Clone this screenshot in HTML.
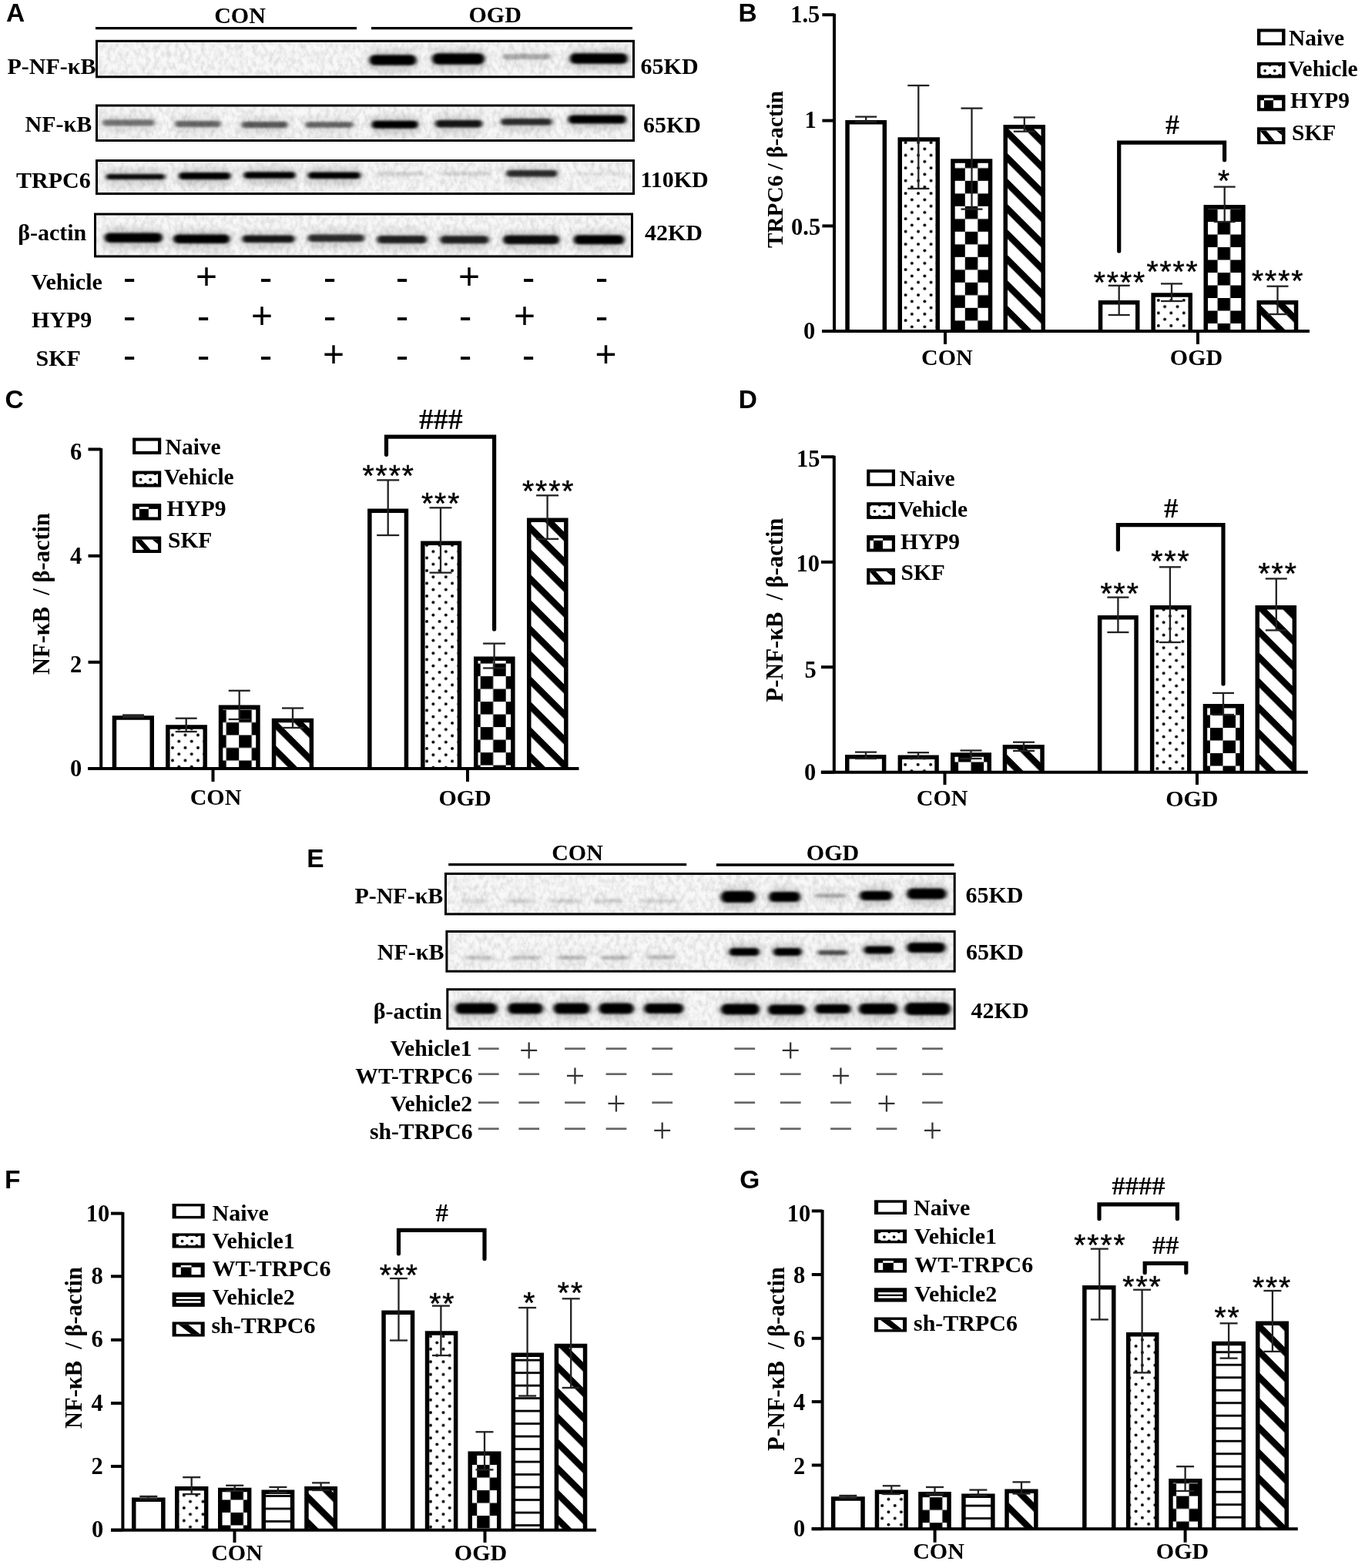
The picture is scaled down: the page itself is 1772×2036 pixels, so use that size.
<!DOCTYPE html><html><head><meta charset="utf-8"><title>Figure</title><style>html,body{margin:0;padding:0;background:#fff;}svg{display:block;}</style></head><body><svg width="1772" height="2036" viewBox="0 0 1772 2036"><defs><pattern id="d1" patternUnits="userSpaceOnUse" x="1175.6" y="300.6" width="16.5" height="16.5"><rect width="16.5" height="16.5" fill="#fff"/><circle cx="0" cy="0" r="2.0"/><circle cx="16.5" cy="0" r="2.0"/><circle cx="0" cy="16.5" r="2.0"/><circle cx="16.5" cy="16.5" r="2.0"/><circle cx="8.25" cy="8.25" r="2.0"/></pattern><pattern id="c2" patternUnits="userSpaceOnUse" x="1252.8" y="300.8" width="33" height="33"><rect width="33" height="33" fill="#fff"/><rect width="16.5" height="16.5"/><rect x="16.5" y="16.5" width="16.5" height="16.5"/></pattern><pattern id="g3" patternUnits="userSpaceOnUse" width="100" height="23.33" patternTransform="translate(1308.2,265.5) rotate(45)"><rect width="100" height="23.33" fill="#fff"/><rect width="100" height="8.49"/></pattern><pattern id="d4" patternUnits="userSpaceOnUse" x="1503.8" y="406.4" width="16.5" height="16.5"><rect width="16.5" height="16.5" fill="#fff"/><circle cx="0" cy="0" r="2.0"/><circle cx="16.5" cy="0" r="2.0"/><circle cx="0" cy="16.5" r="2.0"/><circle cx="16.5" cy="16.5" r="2.0"/><circle cx="8.25" cy="8.25" r="2.0"/></pattern><pattern id="c5" patternUnits="userSpaceOnUse" x="1580.6" y="288" width="33" height="33"><rect width="33" height="33" fill="#fff"/><rect width="16.5" height="16.5"/><rect x="16.5" y="16.5" width="16.5" height="16.5"/></pattern><pattern id="g6" patternUnits="userSpaceOnUse" width="100" height="23.33" patternTransform="translate(1636.6,396.4) rotate(45)"><rect width="100" height="23.33" fill="#fff"/><rect width="100" height="8.49"/></pattern><pattern id="d7" patternUnits="userSpaceOnUse" x="224" y="954.4" width="16.5" height="16.5"><rect width="16.5" height="16.5" fill="#fff"/><circle cx="0" cy="0" r="2.0"/><circle cx="16.5" cy="0" r="2.0"/><circle cx="0" cy="16.5" r="2.0"/><circle cx="16.5" cy="16.5" r="2.0"/><circle cx="8.25" cy="8.25" r="2.0"/></pattern><pattern id="c8" patternUnits="userSpaceOnUse" x="310.2" y="921.5" width="33" height="33"><rect width="33" height="33" fill="#fff"/><rect width="16.5" height="16.5"/><rect x="16.5" y="16.5" width="16.5" height="16.5"/></pattern><pattern id="g9" patternUnits="userSpaceOnUse" width="100" height="23.33" patternTransform="translate(357.8,968.1) rotate(45)"><rect width="100" height="23.33" fill="#fff"/><rect width="100" height="8.49"/></pattern><pattern id="d10" patternUnits="userSpaceOnUse" x="554.1" y="724.4" width="16.5" height="16.5"><rect width="16.5" height="16.5" fill="#fff"/><circle cx="0" cy="0" r="2.0"/><circle cx="16.5" cy="0" r="2.0"/><circle cx="0" cy="16.5" r="2.0"/><circle cx="16.5" cy="16.5" r="2.0"/><circle cx="8.25" cy="8.25" r="2.0"/></pattern><pattern id="c11" patternUnits="userSpaceOnUse" x="623.7" y="878.1" width="33" height="33"><rect width="33" height="33" fill="#fff"/><rect width="16.5" height="16.5"/><rect x="16.5" y="16.5" width="16.5" height="16.5"/></pattern><pattern id="g12" patternUnits="userSpaceOnUse" width="100" height="23.33" patternTransform="translate(688.8,713.1) rotate(45)"><rect width="100" height="23.33" fill="#fff"/><rect width="100" height="8.49"/></pattern><pattern id="d13" patternUnits="userSpaceOnUse" x="1175.2" y="992.8" width="16.5" height="16.5"><rect width="16.5" height="16.5" fill="#fff"/><circle cx="0" cy="0" r="2.0"/><circle cx="16.5" cy="0" r="2.0"/><circle cx="0" cy="16.5" r="2.0"/><circle cx="16.5" cy="16.5" r="2.0"/><circle cx="8.25" cy="8.25" r="2.0"/></pattern><pattern id="c14" patternUnits="userSpaceOnUse" x="1244.1" y="973" width="33" height="33"><rect width="33" height="33" fill="#fff"/><rect width="16.5" height="16.5"/><rect x="16.5" y="16.5" width="16.5" height="16.5"/></pattern><pattern id="g15" patternUnits="userSpaceOnUse" width="100" height="23.33" patternTransform="translate(1306.9,979.5) rotate(45)"><rect width="100" height="23.33" fill="#fff"/><rect width="100" height="8.49"/></pattern><pattern id="d16" patternUnits="userSpaceOnUse" x="1502.4" y="799.9" width="16.5" height="16.5"><rect width="16.5" height="16.5" fill="#fff"/><circle cx="0" cy="0" r="2.0"/><circle cx="16.5" cy="0" r="2.0"/><circle cx="0" cy="16.5" r="2.0"/><circle cx="16.5" cy="16.5" r="2.0"/><circle cx="8.25" cy="8.25" r="2.0"/></pattern><pattern id="c17" patternUnits="userSpaceOnUse" x="1571" y="945" width="33" height="33"><rect width="33" height="33" fill="#fff"/><rect width="16.5" height="16.5"/><rect x="16.5" y="16.5" width="16.5" height="16.5"/></pattern><pattern id="g18" patternUnits="userSpaceOnUse" width="100" height="23.33" patternTransform="translate(1634.8,814.7) rotate(45)"><rect width="100" height="23.33" fill="#fff"/><rect width="100" height="8.49"/></pattern><pattern id="d19" patternUnits="userSpaceOnUse" x="238.8" y="1958" width="16.5" height="16.5"><rect width="16.5" height="16.5" fill="#fff"/><circle cx="0" cy="0" r="2.0"/><circle cx="16.5" cy="0" r="2.0"/><circle cx="0" cy="16.5" r="2.0"/><circle cx="16.5" cy="16.5" r="2.0"/><circle cx="8.25" cy="8.25" r="2.0"/></pattern><pattern id="c20" patternUnits="userSpaceOnUse" x="299.4" y="1964" width="33" height="33"><rect width="33" height="33" fill="#fff"/><rect width="16.5" height="16.5"/><rect x="16.5" y="16.5" width="16.5" height="16.5"/></pattern><pattern id="h21" patternUnits="userSpaceOnUse" x="0" y="1957.6" width="50" height="16.5"><rect width="50" height="16.5" fill="#fff"/><rect width="50" height="2.8"/></pattern><pattern id="g22" patternUnits="userSpaceOnUse" width="100" height="23.33" patternTransform="translate(400.3,1938.8) rotate(45)"><rect width="100" height="23.33" fill="#fff"/><rect width="100" height="8.49"/></pattern><pattern id="d23" patternUnits="userSpaceOnUse" x="559" y="1751.7" width="16.5" height="16.5"><rect width="16.5" height="16.5" fill="#fff"/><circle cx="0" cy="0" r="2.0"/><circle cx="16.5" cy="0" r="2.0"/><circle cx="0" cy="16.5" r="2.0"/><circle cx="16.5" cy="16.5" r="2.0"/><circle cx="8.25" cy="8.25" r="2.0"/></pattern><pattern id="c24" patternUnits="userSpaceOnUse" x="619.2" y="1902.1" width="33" height="33"><rect width="33" height="33" fill="#fff"/><rect width="16.5" height="16.5"/><rect x="16.5" y="16.5" width="16.5" height="16.5"/></pattern><pattern id="h25" patternUnits="userSpaceOnUse" x="0" y="1781.2" width="50" height="16.5"><rect width="50" height="16.5" fill="#fff"/><rect width="50" height="2.8"/></pattern><pattern id="g26" patternUnits="userSpaceOnUse" width="100" height="23.33" patternTransform="translate(724.7,1769.5) rotate(45)"><rect width="100" height="23.33" fill="#fff"/><rect width="100" height="8.49"/></pattern><pattern id="d27" patternUnits="userSpaceOnUse" x="1145.2" y="1955" width="16.5" height="16.5"><rect width="16.5" height="16.5" fill="#fff"/><circle cx="0" cy="0" r="2.0"/><circle cx="16.5" cy="0" r="2.0"/><circle cx="0" cy="16.5" r="2.0"/><circle cx="16.5" cy="16.5" r="2.0"/><circle cx="8.25" cy="8.25" r="2.0"/></pattern><pattern id="c28" patternUnits="userSpaceOnUse" x="1206.8" y="1944.2" width="33" height="33"><rect width="33" height="33" fill="#fff"/><rect width="16.5" height="16.5"/><rect x="16.5" y="16.5" width="16.5" height="16.5"/></pattern><pattern id="h29" patternUnits="userSpaceOnUse" x="0" y="1953.7" width="50" height="16.5"><rect width="50" height="16.5" fill="#fff"/><rect width="50" height="2.8"/></pattern><pattern id="g30" patternUnits="userSpaceOnUse" width="100" height="23.33" patternTransform="translate(1310,1951.8) rotate(45)"><rect width="100" height="23.33" fill="#fff"/><rect width="100" height="8.49"/></pattern><pattern id="d31" patternUnits="userSpaceOnUse" x="1466.4" y="1739.7" width="16.5" height="16.5"><rect width="16.5" height="16.5" fill="#fff"/><circle cx="0" cy="0" r="2.0"/><circle cx="16.5" cy="0" r="2.0"/><circle cx="0" cy="16.5" r="2.0"/><circle cx="16.5" cy="16.5" r="2.0"/><circle cx="8.25" cy="8.25" r="2.0"/></pattern><pattern id="c32" patternUnits="userSpaceOnUse" x="1527.1" y="1942.6" width="33" height="33"><rect width="33" height="33" fill="#fff"/><rect width="16.5" height="16.5"/><rect x="16.5" y="16.5" width="16.5" height="16.5"/></pattern><pattern id="h33" patternUnits="userSpaceOnUse" x="0" y="1770.8" width="50" height="16.5"><rect width="50" height="16.5" fill="#fff"/><rect width="50" height="2.8"/></pattern><pattern id="g34" patternUnits="userSpaceOnUse" width="100" height="23.33" patternTransform="translate(1634.7,1782.2) rotate(45)"><rect width="100" height="23.33" fill="#fff"/><rect width="100" height="8.49"/></pattern><filter id="bl" x="-20%" y="-100%" width="140%" height="300%"><feGaussianBlur stdDeviation="2.6 1.8"/></filter><filter id="bl2" x="-30%" y="-100%" width="160%" height="300%"><feGaussianBlur stdDeviation="4 4"/></filter><filter id="nz" x="0" y="0" width="100%" height="100%"><feTurbulence type="fractalNoise" baseFrequency="0.18 0.12" numOctaves="3" seed="7" result="t"/><feColorMatrix in="t" type="matrix" values="0 0 0 0 0  0 0 0 0 0  0 0 0 0 0  0.24 0 0 0 -0.09" result="n"/><feComposite in="n" in2="SourceGraphic" operator="in"/></filter><clipPath id="clipA"><rect x="127" y="0" width="694" height="340"/></clipPath></defs><rect width="1772" height="2036" fill="#fff"/><text x="8" y="28" font-size="33.5" text-anchor="start" font-weight="bold" font-family="'Liberation Sans', Arial, sans-serif" >A</text>
<text x="311.5" y="30" font-size="30" text-anchor="middle" font-weight="bold" font-family="'Liberation Serif', 'Times New Roman', serif" >CON</text>
<text x="642.7" y="28.5" font-size="30" text-anchor="middle" font-weight="bold" font-family="'Liberation Serif', 'Times New Roman', serif" >OGD</text>
<line x1="124" y1="36.7" x2="463" y2="36.7" stroke="#000" stroke-width="3.2" stroke-linecap="butt"/>
<line x1="482" y1="36.7" x2="821" y2="36.7" stroke="#000" stroke-width="3.2" stroke-linecap="butt"/>
<rect x="125.5" y="53.3" width="697" height="46.5" fill="#f8f8f8"/>
<rect x="127" y="54.8" width="694" height="43.5" fill="#000" filter="url(#nz)"/>
<rect x="125.5" y="137" width="697" height="45.5" fill="#f8f8f8"/>
<rect x="127" y="138.5" width="694" height="42.5" fill="#000" filter="url(#nz)"/>
<rect x="125.5" y="208.5" width="697" height="43" fill="#f8f8f8"/>
<rect x="127" y="210" width="694" height="40" fill="#000" filter="url(#nz)"/>
<rect x="123.5" y="278" width="697" height="54.9" fill="#f8f8f8"/>
<rect x="125" y="279.5" width="694" height="51.9" fill="#000" filter="url(#nz)"/>
<g clip-path="url(#clipA)">
<rect x="477" y="65.15" width="66" height="27.5" rx="13.75" fill="#000" fill-opacity="0.16" filter="url(#bl2)"/>
<rect x="479.5" y="71.15" width="61" height="13.5" rx="6.75" fill="#000" fill-opacity="1.0" filter="url(#bl)"/>
<rect x="558.4" y="63.15" width="73.1" height="28.5" rx="14.25" fill="#000" fill-opacity="0.16" filter="url(#bl2)"/>
<rect x="560.9" y="69.15" width="68.1" height="14.5" rx="7.25" fill="#000" fill-opacity="1.0" filter="url(#bl)"/>
<rect x="649.8" y="64" width="68.1" height="21" rx="10.5" fill="#000" fill-opacity="0.04" filter="url(#bl2)"/>
<rect x="652.3" y="70" width="63.1" height="7" rx="3.5" fill="#000" fill-opacity="0.28" filter="url(#bl)"/>
<rect x="737.2" y="63.15" width="80.2" height="27.5" rx="13.75" fill="#000" fill-opacity="0.16" filter="url(#bl2)"/>
<rect x="739.7" y="69.15" width="75.2" height="13.5" rx="6.75" fill="#000" fill-opacity="1.0" filter="url(#bl)"/>
<rect x="130.5" y="149.5" width="72.5" height="22" rx="11" fill="#000" fill-opacity="0.08" filter="url(#bl2)"/>
<rect x="133" y="155.5" width="67.5" height="8" rx="4" fill="#000" fill-opacity="0.5" filter="url(#bl)"/>
<rect x="224.6" y="151" width="64.4" height="22" rx="11" fill="#000" fill-opacity="0.09" filter="url(#bl2)"/>
<rect x="227.1" y="157" width="59.4" height="8" rx="4" fill="#000" fill-opacity="0.55" filter="url(#bl)"/>
<rect x="311" y="152" width="65" height="22" rx="11" fill="#000" fill-opacity="0.1" filter="url(#bl2)"/>
<rect x="313.5" y="158" width="60" height="8" rx="4" fill="#000" fill-opacity="0.6" filter="url(#bl)"/>
<rect x="394" y="152.25" width="67" height="21.5" rx="10.75" fill="#000" fill-opacity="0.09" filter="url(#bl2)"/>
<rect x="396.5" y="158.25" width="62" height="7.5" rx="3.75" fill="#000" fill-opacity="0.55" filter="url(#bl)"/>
<rect x="480" y="150.7" width="65.2" height="24" rx="12" fill="#000" fill-opacity="0.16" filter="url(#bl2)"/>
<rect x="482.5" y="156.7" width="60.2" height="10" rx="5" fill="#000" fill-opacity="1.0" filter="url(#bl)"/>
<rect x="562.5" y="149.95" width="66" height="23.5" rx="11.75" fill="#000" fill-opacity="0.14" filter="url(#bl2)"/>
<rect x="565" y="155.95" width="61" height="9.5" rx="4.75" fill="#000" fill-opacity="0.9" filter="url(#bl)"/>
<rect x="647.8" y="147.95" width="71.2" height="22.5" rx="11.25" fill="#000" fill-opacity="0.13" filter="url(#bl2)"/>
<rect x="650.3" y="153.95" width="66.2" height="8.5" rx="4.25" fill="#000" fill-opacity="0.8" filter="url(#bl)"/>
<rect x="735.2" y="143.6" width="80.2" height="25" rx="12.5" fill="#000" fill-opacity="0.16" filter="url(#bl2)"/>
<rect x="737.7" y="149.6" width="75.2" height="11" rx="5.5" fill="#000" fill-opacity="1.0" filter="url(#bl)"/>
<rect x="135.3" y="220" width="81.2" height="21" rx="10.5" fill="#000" fill-opacity="0.15" filter="url(#bl2)"/>
<rect x="137.8" y="226" width="76.2" height="7" rx="3.5" fill="#000" fill-opacity="0.95" filter="url(#bl)"/>
<rect x="229.7" y="218" width="72.1" height="23" rx="11.5" fill="#000" fill-opacity="0.16" filter="url(#bl2)"/>
<rect x="232.2" y="224" width="67.1" height="9" rx="4.5" fill="#000" fill-opacity="1.0" filter="url(#bl)"/>
<rect x="314" y="217.25" width="72" height="22.5" rx="11.25" fill="#000" fill-opacity="0.16" filter="url(#bl2)"/>
<rect x="316.5" y="223.25" width="67" height="8.5" rx="4.25" fill="#000" fill-opacity="1.0" filter="url(#bl)"/>
<rect x="397.3" y="217.55" width="73.2" height="22.5" rx="11.25" fill="#000" fill-opacity="0.16" filter="url(#bl2)"/>
<rect x="399.8" y="223.55" width="68.2" height="8.5" rx="4.25" fill="#000" fill-opacity="1.0" filter="url(#bl)"/>
<rect x="488.4" y="217" width="64.1" height="19" rx="9.5" fill="#000" fill-opacity="0.02" filter="url(#bl2)"/>
<rect x="490.9" y="223" width="59.1" height="5" rx="2.5" fill="#000" fill-opacity="0.12" filter="url(#bl)"/>
<rect x="568.8" y="217" width="69.7" height="19" rx="9.5" fill="#000" fill-opacity="0.02" filter="url(#bl2)"/>
<rect x="571.3" y="223" width="64.7" height="5" rx="2.5" fill="#000" fill-opacity="0.12" filter="url(#bl)"/>
<rect x="654.9" y="215.05" width="71.1" height="22.5" rx="11.25" fill="#000" fill-opacity="0.13" filter="url(#bl2)"/>
<rect x="657.4" y="221.05" width="66.1" height="8.5" rx="4.25" fill="#000" fill-opacity="0.8" filter="url(#bl)"/>
<rect x="743.7" y="217" width="72.3" height="19" rx="9.5" fill="#000" fill-opacity="0.01" filter="url(#bl2)"/>
<rect x="746.2" y="223" width="67.3" height="5" rx="2.5" fill="#000" fill-opacity="0.06" filter="url(#bl)"/>
<rect x="133.2" y="296.45" width="80.2" height="26.5" rx="13.25" fill="#000" fill-opacity="0.16" filter="url(#bl2)"/>
<rect x="135.7" y="302.45" width="75.2" height="12.5" rx="6.25" fill="#000" fill-opacity="1.0" filter="url(#bl)"/>
<rect x="222.6" y="298.45" width="78.2" height="25.5" rx="12.75" fill="#000" fill-opacity="0.16" filter="url(#bl2)"/>
<rect x="225.1" y="304.45" width="73.2" height="11.5" rx="5.75" fill="#000" fill-opacity="1.0" filter="url(#bl)"/>
<rect x="312" y="299.45" width="73" height="23.5" rx="11.75" fill="#000" fill-opacity="0.14" filter="url(#bl2)"/>
<rect x="314.5" y="305.45" width="68" height="9.5" rx="4.75" fill="#000" fill-opacity="0.9" filter="url(#bl)"/>
<rect x="397.3" y="298.45" width="78.2" height="23.5" rx="11.75" fill="#000" fill-opacity="0.13" filter="url(#bl2)"/>
<rect x="399.8" y="304.45" width="73.2" height="9.5" rx="4.75" fill="#000" fill-opacity="0.8" filter="url(#bl)"/>
<rect x="487" y="300" width="69.7" height="24" rx="12" fill="#000" fill-opacity="0.14" filter="url(#bl2)"/>
<rect x="489.5" y="306" width="64.7" height="10" rx="5" fill="#000" fill-opacity="0.85" filter="url(#bl)"/>
<rect x="568.8" y="300.3" width="68.2" height="24" rx="12" fill="#000" fill-opacity="0.14" filter="url(#bl2)"/>
<rect x="571.3" y="306.3" width="63.2" height="10" rx="5" fill="#000" fill-opacity="0.85" filter="url(#bl)"/>
<rect x="650.6" y="299.55" width="78.2" height="25.5" rx="12.75" fill="#000" fill-opacity="0.15" filter="url(#bl2)"/>
<rect x="653.1" y="305.55" width="73.2" height="11.5" rx="5.75" fill="#000" fill-opacity="0.95" filter="url(#bl)"/>
<rect x="742.3" y="299.3" width="70.6" height="26" rx="13" fill="#000" fill-opacity="0.16" filter="url(#bl2)"/>
<rect x="744.8" y="305.3" width="65.6" height="12" rx="6" fill="#000" fill-opacity="1.0" filter="url(#bl)"/>
</g>
<rect x="125.5" y="53.3" width="697" height="46.5" fill="none" stroke="#000" stroke-width="3"/>
<rect x="125.5" y="137" width="697" height="45.5" fill="none" stroke="#000" stroke-width="3"/>
<rect x="125.5" y="208.5" width="697" height="43" fill="none" stroke="#000" stroke-width="3"/>
<rect x="123.5" y="278" width="697" height="54.9" fill="none" stroke="#000" stroke-width="3"/>
<text x="9.5" y="96.2" font-size="30" text-anchor="start" font-weight="bold" font-family="'Liberation Serif', 'Times New Roman', serif" >P-NF-κB</text>
<text x="32.6" y="171.3" font-size="30" text-anchor="start" font-weight="bold" font-family="'Liberation Serif', 'Times New Roman', serif" >NF-κB</text>
<text x="21" y="244" font-size="30" text-anchor="start" font-weight="bold" font-family="'Liberation Serif', 'Times New Roman', serif" >TRPC6</text>
<text x="23.2" y="312" font-size="30" text-anchor="start" font-weight="bold" font-family="'Liberation Serif', 'Times New Roman', serif" >β-actin</text>
<text x="831.6" y="96" font-size="30" text-anchor="start" font-weight="bold" font-family="'Liberation Serif', 'Times New Roman', serif" >65KD</text>
<text x="835" y="171.6" font-size="30" text-anchor="start" font-weight="bold" font-family="'Liberation Serif', 'Times New Roman', serif" >65KD</text>
<text x="831.4" y="243" font-size="30" text-anchor="start" font-weight="bold" font-family="'Liberation Serif', 'Times New Roman', serif" >110KD</text>
<text x="837" y="312" font-size="30" text-anchor="start" font-weight="bold" font-family="'Liberation Serif', 'Times New Roman', serif" >42KD</text>
<text x="40.6" y="376.4" font-size="30" text-anchor="start" font-weight="bold" font-family="'Liberation Serif', 'Times New Roman', serif" >Vehicle</text>
<text x="41" y="425" font-size="30" text-anchor="start" font-weight="bold" font-family="'Liberation Serif', 'Times New Roman', serif" >HYP9</text>
<text x="46.5" y="475" font-size="30" text-anchor="start" font-weight="bold" font-family="'Liberation Serif', 'Times New Roman', serif" >SKF</text>
<text x="168" y="376.7" font-size="50" text-anchor="middle" font-weight="normal" font-family="'Liberation Sans', Arial, sans-serif" >-</text>
<text x="268" y="375.3" font-size="48" text-anchor="middle" font-weight="normal" font-family="'Liberation Sans', Arial, sans-serif" >+</text>
<text x="345" y="376.7" font-size="50" text-anchor="middle" font-weight="normal" font-family="'Liberation Sans', Arial, sans-serif" >-</text>
<text x="428" y="376.7" font-size="50" text-anchor="middle" font-weight="normal" font-family="'Liberation Sans', Arial, sans-serif" >-</text>
<text x="522" y="376.7" font-size="50" text-anchor="middle" font-weight="normal" font-family="'Liberation Sans', Arial, sans-serif" >-</text>
<text x="609" y="375.3" font-size="48" text-anchor="middle" font-weight="normal" font-family="'Liberation Sans', Arial, sans-serif" >+</text>
<text x="686" y="376.7" font-size="50" text-anchor="middle" font-weight="normal" font-family="'Liberation Sans', Arial, sans-serif" >-</text>
<text x="781" y="376.7" font-size="50" text-anchor="middle" font-weight="normal" font-family="'Liberation Sans', Arial, sans-serif" >-</text>
<text x="168" y="427" font-size="50" text-anchor="middle" font-weight="normal" font-family="'Liberation Sans', Arial, sans-serif" >-</text>
<text x="264" y="427" font-size="50" text-anchor="middle" font-weight="normal" font-family="'Liberation Sans', Arial, sans-serif" >-</text>
<text x="340" y="426.2" font-size="48" text-anchor="middle" font-weight="normal" font-family="'Liberation Sans', Arial, sans-serif" >+</text>
<text x="428" y="427" font-size="50" text-anchor="middle" font-weight="normal" font-family="'Liberation Sans', Arial, sans-serif" >-</text>
<text x="522" y="427" font-size="50" text-anchor="middle" font-weight="normal" font-family="'Liberation Sans', Arial, sans-serif" >-</text>
<text x="604" y="427" font-size="50" text-anchor="middle" font-weight="normal" font-family="'Liberation Sans', Arial, sans-serif" >-</text>
<text x="681" y="426.2" font-size="48" text-anchor="middle" font-weight="normal" font-family="'Liberation Sans', Arial, sans-serif" >+</text>
<text x="781" y="427" font-size="50" text-anchor="middle" font-weight="normal" font-family="'Liberation Sans', Arial, sans-serif" >-</text>
<text x="168" y="477.9" font-size="50" text-anchor="middle" font-weight="normal" font-family="'Liberation Sans', Arial, sans-serif" >-</text>
<text x="264" y="477.9" font-size="50" text-anchor="middle" font-weight="normal" font-family="'Liberation Sans', Arial, sans-serif" >-</text>
<text x="345" y="477.9" font-size="50" text-anchor="middle" font-weight="normal" font-family="'Liberation Sans', Arial, sans-serif" >-</text>
<text x="433" y="476.3" font-size="48" text-anchor="middle" font-weight="normal" font-family="'Liberation Sans', Arial, sans-serif" >+</text>
<text x="522" y="477.9" font-size="50" text-anchor="middle" font-weight="normal" font-family="'Liberation Sans', Arial, sans-serif" >-</text>
<text x="604" y="477.9" font-size="50" text-anchor="middle" font-weight="normal" font-family="'Liberation Sans', Arial, sans-serif" >-</text>
<text x="686" y="477.9" font-size="50" text-anchor="middle" font-weight="normal" font-family="'Liberation Sans', Arial, sans-serif" >-</text>
<text x="786.5" y="476.3" font-size="48" text-anchor="middle" font-weight="normal" font-family="'Liberation Sans', Arial, sans-serif" >+</text>
<text x="958.6" y="28" font-size="33.5" text-anchor="start" font-weight="bold" font-family="'Liberation Sans', Arial, sans-serif" >B</text>
<line x1="1083" y1="17.7" x2="1083" y2="430" stroke="#000" stroke-width="4" stroke-linecap="butt"/>
<line x1="1067.4" y1="19.2" x2="1083" y2="19.2" stroke="#000" stroke-width="4" stroke-linecap="butt"/>
<text x="1026.2" y="28.6" font-size="30.5" text-anchor="start" font-weight="bold" font-family="'Liberation Serif', 'Times New Roman', serif" >1.5</text>
<line x1="1067.4" y1="156.6" x2="1083" y2="156.6" stroke="#000" stroke-width="4" stroke-linecap="butt"/>
<text x="1044.5" y="166.4" font-size="30.5" text-anchor="start" font-weight="bold" font-family="'Liberation Serif', 'Times New Roman', serif" >1</text>
<line x1="1067.4" y1="293.4" x2="1083" y2="293.4" stroke="#000" stroke-width="4" stroke-linecap="butt"/>
<text x="1027" y="304.8" font-size="30.5" text-anchor="start" font-weight="bold" font-family="'Liberation Serif', 'Times New Roman', serif" >0.5</text>
<line x1="1067.4" y1="430" x2="1083" y2="430" stroke="#000" stroke-width="4" stroke-linecap="butt"/>
<text x="1043" y="440.3" font-size="30.5" text-anchor="start" font-weight="bold" font-family="'Liberation Serif', 'Times New Roman', serif" >0</text>
<line x1="1227" y1="430" x2="1227" y2="447" stroke="#000" stroke-width="4" stroke-linecap="butt"/>
<text x="1229.4" y="474" font-size="30" text-anchor="middle" font-weight="bold" font-family="'Liberation Serif', 'Times New Roman', serif" >CON</text>
<line x1="1555" y1="430" x2="1555" y2="447" stroke="#000" stroke-width="4" stroke-linecap="butt"/>
<text x="1553" y="474" font-size="30" text-anchor="middle" font-weight="bold" font-family="'Liberation Serif', 'Times New Roman', serif" >OGD</text>
<text transform="translate(1016,220) rotate(-90)" font-size="29.3" text-anchor="middle" font-weight="bold" font-family="'Liberation Serif', 'Times New Roman', serif" xml:space="preserve">TRPC6 / β-actin</text>
<rect x="1100.05" y="158.75" width="48.3" height="271.25" fill="#fff"/>
<path d="M1100.05,430 L1100.05,158.75 L1148.35,158.75 L1148.35,430" fill="none" stroke="#000" stroke-width="5.5" stroke-linejoin="miter"/>
<rect x="1168.25" y="180.95" width="49" height="249.05" fill="url(#d1)"/>
<path d="M1168.25,430 L1168.25,180.95 L1217.25,180.95 L1217.25,430" fill="none" stroke="#000" stroke-width="5.5" stroke-linejoin="miter"/>
<rect x="1236.95" y="209.05" width="48.6" height="220.95" fill="url(#c2)"/>
<path d="M1236.95,430 L1236.95,209.05 L1285.55,209.05 L1285.55,430" fill="none" stroke="#000" stroke-width="5.5" stroke-linejoin="miter"/>
<rect x="1305.25" y="164.75" width="49" height="265.25" fill="url(#g3)"/>
<path d="M1305.25,430 L1305.25,164.75 L1354.25,164.75 L1354.25,430" fill="none" stroke="#000" stroke-width="5.5" stroke-linejoin="miter"/>
<rect x="1428.55" y="392.75" width="48.2" height="37.25" fill="#fff"/>
<path d="M1428.55,430 L1428.55,392.75 L1476.75,392.75 L1476.75,430" fill="none" stroke="#000" stroke-width="5.5" stroke-linejoin="miter"/>
<rect x="1497.15" y="382.95" width="48.1" height="47.05" fill="url(#d4)"/>
<path d="M1497.15,430 L1497.15,382.95 L1545.25,382.95 L1545.25,430" fill="none" stroke="#000" stroke-width="5.5" stroke-linejoin="miter"/>
<rect x="1565.25" y="268.75" width="48.7" height="161.25" fill="url(#c5)"/>
<path d="M1565.25,430 L1565.25,268.75 L1613.95,268.75 L1613.95,430" fill="none" stroke="#000" stroke-width="5.5" stroke-linejoin="miter"/>
<rect x="1634.25" y="392.75" width="48.3" height="37.25" fill="url(#g6)"/>
<path d="M1634.25,430 L1634.25,392.75 L1682.55,392.75 L1682.55,430" fill="none" stroke="#000" stroke-width="5.5" stroke-linejoin="miter"/>
<line x1="1067" y1="430" x2="1700" y2="430" stroke="#000" stroke-width="4" stroke-linecap="butt"/>
<line x1="1124.2" y1="151.6" x2="1124.2" y2="158" stroke="#222" stroke-width="2.3" stroke-linecap="butt"/>
<line x1="1110.2" y1="151.6" x2="1138.2" y2="151.6" stroke="#222" stroke-width="2.3" stroke-linecap="butt"/>
<line x1="1110.2" y1="158" x2="1138.2" y2="158" stroke="#222" stroke-width="2.3" stroke-linecap="butt"/>
<line x1="1192.3" y1="111" x2="1192.3" y2="244.9" stroke="#222" stroke-width="2.3" stroke-linecap="butt"/>
<line x1="1178.3" y1="111" x2="1206.3" y2="111" stroke="#222" stroke-width="2.3" stroke-linecap="butt"/>
<line x1="1178.3" y1="244.9" x2="1206.3" y2="244.9" stroke="#222" stroke-width="2.3" stroke-linecap="butt"/>
<line x1="1261.5" y1="140.6" x2="1261.5" y2="271.6" stroke="#222" stroke-width="2.3" stroke-linecap="butt"/>
<line x1="1247.5" y1="140.6" x2="1275.5" y2="140.6" stroke="#222" stroke-width="2.3" stroke-linecap="butt"/>
<line x1="1247.5" y1="271.6" x2="1275.5" y2="271.6" stroke="#222" stroke-width="2.3" stroke-linecap="butt"/>
<line x1="1329.8" y1="152.4" x2="1329.8" y2="170.7" stroke="#222" stroke-width="2.3" stroke-linecap="butt"/>
<line x1="1315.8" y1="152.4" x2="1343.8" y2="152.4" stroke="#222" stroke-width="2.3" stroke-linecap="butt"/>
<line x1="1315.8" y1="170.7" x2="1343.8" y2="170.7" stroke="#222" stroke-width="2.3" stroke-linecap="butt"/>
<line x1="1452.7" y1="370.8" x2="1452.7" y2="409" stroke="#222" stroke-width="2.3" stroke-linecap="butt"/>
<line x1="1438.7" y1="370.8" x2="1466.7" y2="370.8" stroke="#222" stroke-width="2.3" stroke-linecap="butt"/>
<line x1="1438.7" y1="409" x2="1466.7" y2="409" stroke="#222" stroke-width="2.3" stroke-linecap="butt"/>
<line x1="1521" y1="368.4" x2="1521" y2="391" stroke="#222" stroke-width="2.3" stroke-linecap="butt"/>
<line x1="1507" y1="368.4" x2="1535" y2="368.4" stroke="#222" stroke-width="2.3" stroke-linecap="butt"/>
<line x1="1507" y1="391" x2="1535" y2="391" stroke="#222" stroke-width="2.3" stroke-linecap="butt"/>
<line x1="1589.7" y1="242.6" x2="1589.7" y2="288" stroke="#222" stroke-width="2.3" stroke-linecap="butt"/>
<line x1="1575.7" y1="242.6" x2="1603.7" y2="242.6" stroke="#222" stroke-width="2.3" stroke-linecap="butt"/>
<line x1="1575.7" y1="288" x2="1603.7" y2="288" stroke="#222" stroke-width="2.3" stroke-linecap="butt"/>
<line x1="1658.5" y1="371.7" x2="1658.5" y2="408" stroke="#222" stroke-width="2.3" stroke-linecap="butt"/>
<line x1="1644.5" y1="371.7" x2="1672.5" y2="371.7" stroke="#222" stroke-width="2.3" stroke-linecap="butt"/>
<line x1="1644.5" y1="408" x2="1672.5" y2="408" stroke="#222" stroke-width="2.3" stroke-linecap="butt"/>
<text x="1453.95" y="380.03" font-size="39" letter-spacing="1.9" text-anchor="middle" font-family="'Liberation Sans', Arial, sans-serif" stroke="#000" stroke-width="0.5">****</text>
<text x="1522.55" y="365.53" font-size="39" letter-spacing="1.9" text-anchor="middle" font-family="'Liberation Sans', Arial, sans-serif" stroke="#000" stroke-width="0.5">****</text>
<text x="1589.45" y="248.03" font-size="39" letter-spacing="1.9" text-anchor="middle" font-family="'Liberation Sans', Arial, sans-serif" stroke="#000" stroke-width="0.5">*</text>
<text x="1659.15" y="378.03" font-size="39" letter-spacing="1.9" text-anchor="middle" font-family="'Liberation Sans', Arial, sans-serif" stroke="#000" stroke-width="0.5">****</text>
<path d="M1452.7,326 L1452.7,185.1 L1589.6,185.1 L1589.6,207.7" fill="none" stroke="#000" stroke-width="5.2" stroke-linecap="round" stroke-linejoin="miter"/>
<text x="1522" y="174.3" font-size="35.95" text-anchor="middle" font-weight="bold" font-family="'Liberation Serif', 'Times New Roman', serif" >#</text>
<rect x="1632" y="37.4" width="36.5" height="21.5" fill="#000"/>
<rect x="1636.4" y="41.5" width="27.7" height="13.3" fill="#fff"/>
<text x="1673" y="59.3" font-size="29.5" text-anchor="start" font-weight="bold" font-family="'Liberation Serif', 'Times New Roman', serif" >Naive</text>
<rect x="1632" y="80.8" width="36.5" height="20.6" fill="#000"/>
<rect x="1636.4" y="84.9" width="27.7" height="12.4" fill="#fff"/>
<circle cx="1642.15" cy="91.84" r="1.9"/>
<circle cx="1654.75" cy="91.84" r="1.9"/>
<circle cx="1635.85" cy="84.3" r="2.1"/>
<circle cx="1635.85" cy="97.9" r="2.1"/>
<circle cx="1648.45" cy="84.3" r="2.1"/>
<circle cx="1648.45" cy="97.9" r="2.1"/>
<circle cx="1661.05" cy="84.3" r="2.1"/>
<circle cx="1661.05" cy="97.9" r="2.1"/>
<text x="1672" y="98.6" font-size="29.5" text-anchor="start" font-weight="bold" font-family="'Liberation Serif', 'Times New Roman', serif" >Vehicle</text>
<rect x="1632" y="123.3" width="36.5" height="21" fill="#000"/>
<rect x="1636.4" y="130.2" width="4.6" height="10" fill="#fff"/>
<rect x="1653" y="130.2" width="11.1" height="10" fill="#fff"/>
<rect x="1641" y="127.4" width="12" height="2.8" fill="#fff"/>
<text x="1675" y="140.2" font-size="29.5" text-anchor="start" font-weight="bold" font-family="'Liberation Serif', 'Times New Roman', serif" >HYP9</text>
<rect x="1632" y="165.3" width="36.5" height="22" fill="#000"/>
<rect x="1636.4" y="169.4" width="27.7" height="13.8" fill="#fff"/>
<polygon points="1636.4,170.5 1636.4,169.4 1643.6,169.4 1654.96,183.2 1646.93,183.2"/>
<polygon points="1656.9,169.4 1664.1,169.4 1664.1,175.47"/>
<text x="1677" y="182.3" font-size="29.5" text-anchor="start" font-weight="bold" font-family="'Liberation Serif', 'Times New Roman', serif" >SKF</text>
<text x="6.4" y="530.3" font-size="33.5" text-anchor="start" font-weight="bold" font-family="'Liberation Sans', Arial, sans-serif" >C</text>
<line x1="131.2" y1="581.9" x2="131.2" y2="998" stroke="#000" stroke-width="4" stroke-linecap="butt"/>
<line x1="114.5" y1="583.4" x2="131.2" y2="583.4" stroke="#000" stroke-width="4" stroke-linecap="butt"/>
<text x="90.9" y="596.8" font-size="30.5" text-anchor="start" font-weight="bold" font-family="'Liberation Serif', 'Times New Roman', serif" >6</text>
<line x1="114.5" y1="721.8" x2="131.2" y2="721.8" stroke="#000" stroke-width="4" stroke-linecap="butt"/>
<text x="90.9" y="732.1" font-size="30.5" text-anchor="start" font-weight="bold" font-family="'Liberation Serif', 'Times New Roman', serif" >4</text>
<line x1="114.5" y1="859.8" x2="131.2" y2="859.8" stroke="#000" stroke-width="4" stroke-linecap="butt"/>
<text x="91" y="872.5" font-size="30.5" text-anchor="start" font-weight="bold" font-family="'Liberation Serif', 'Times New Roman', serif" >2</text>
<line x1="114.5" y1="998" x2="131.2" y2="998" stroke="#000" stroke-width="4" stroke-linecap="butt"/>
<text x="91" y="1007.8" font-size="30.5" text-anchor="start" font-weight="bold" font-family="'Liberation Serif', 'Times New Roman', serif" >0</text>
<line x1="276.5" y1="998" x2="276.5" y2="1015" stroke="#000" stroke-width="4" stroke-linecap="butt"/>
<text x="280" y="1045" font-size="30" text-anchor="middle" font-weight="bold" font-family="'Liberation Serif', 'Times New Roman', serif" >CON</text>
<line x1="607" y1="998" x2="607" y2="1015" stroke="#000" stroke-width="4" stroke-linecap="butt"/>
<text x="603.6" y="1046" font-size="30" text-anchor="middle" font-weight="bold" font-family="'Liberation Serif', 'Times New Roman', serif" >OGD</text>
<text transform="translate(63.5,771) rotate(-90)" font-size="30.5" text-anchor="middle" font-weight="bold" font-family="'Liberation Serif', 'Times New Roman', serif" xml:space="preserve">NF-κB  / β-actin</text>
<rect x="148.45" y="931.95" width="48.8" height="66.05" fill="#fff"/>
<path d="M148.45,998 L148.45,931.95 L197.25,931.95 L197.25,998" fill="none" stroke="#000" stroke-width="5.5" stroke-linejoin="miter"/>
<rect x="217.85" y="944.05" width="48.4" height="53.95" fill="url(#d7)"/>
<path d="M217.85,998 L217.85,944.05 L266.25,944.05 L266.25,998" fill="none" stroke="#000" stroke-width="5.5" stroke-linejoin="miter"/>
<rect x="286.55" y="918.15" width="48.4" height="79.85" fill="url(#c8)"/>
<path d="M286.55,998 L286.55,918.15 L334.95,918.15 L334.95,998" fill="none" stroke="#000" stroke-width="5.5" stroke-linejoin="miter"/>
<rect x="355.55" y="935.45" width="48.8" height="62.55" fill="url(#g9)"/>
<path d="M355.55,998 L355.55,935.45 L404.35,935.45 L404.35,998" fill="none" stroke="#000" stroke-width="5.5" stroke-linejoin="miter"/>
<rect x="479.85" y="663.35" width="47.6" height="334.65" fill="#fff"/>
<path d="M479.85,998 L479.85,663.35 L527.45,663.35 L527.45,998" fill="none" stroke="#000" stroke-width="5.5" stroke-linejoin="miter"/>
<rect x="548.85" y="705.25" width="47.6" height="292.75" fill="url(#d10)"/>
<path d="M548.85,998 L548.85,705.25 L596.45,705.25 L596.45,998" fill="none" stroke="#000" stroke-width="5.5" stroke-linejoin="miter"/>
<rect x="617.75" y="855.15" width="48.1" height="142.85" fill="url(#c11)"/>
<path d="M617.75,998 L617.75,855.15 L665.85,855.15 L665.85,998" fill="none" stroke="#000" stroke-width="5.5" stroke-linejoin="miter"/>
<rect x="686.75" y="675.25" width="48.1" height="322.75" fill="url(#g12)"/>
<path d="M686.75,998 L686.75,675.25 L734.85,675.25 L734.85,998" fill="none" stroke="#000" stroke-width="5.5" stroke-linejoin="miter"/>
<line x1="114" y1="998" x2="751.5" y2="998" stroke="#000" stroke-width="4" stroke-linecap="butt"/>
<line x1="173" y1="928.5" x2="173" y2="931" stroke="#222" stroke-width="2.3" stroke-linecap="butt"/>
<line x1="159" y1="928.5" x2="187" y2="928.5" stroke="#222" stroke-width="2.3" stroke-linecap="butt"/>
<line x1="159" y1="931" x2="187" y2="931" stroke="#222" stroke-width="2.3" stroke-linecap="butt"/>
<line x1="241.7" y1="932.7" x2="241.7" y2="950" stroke="#222" stroke-width="2.3" stroke-linecap="butt"/>
<line x1="227.7" y1="932.7" x2="255.7" y2="932.7" stroke="#222" stroke-width="2.3" stroke-linecap="butt"/>
<line x1="227.7" y1="950" x2="255.7" y2="950" stroke="#222" stroke-width="2.3" stroke-linecap="butt"/>
<line x1="310.7" y1="896.8" x2="310.7" y2="934" stroke="#222" stroke-width="2.3" stroke-linecap="butt"/>
<line x1="296.7" y1="896.8" x2="324.7" y2="896.8" stroke="#222" stroke-width="2.3" stroke-linecap="butt"/>
<line x1="296.7" y1="934" x2="324.7" y2="934" stroke="#222" stroke-width="2.3" stroke-linecap="butt"/>
<line x1="380" y1="919.5" x2="380" y2="945" stroke="#222" stroke-width="2.3" stroke-linecap="butt"/>
<line x1="366" y1="919.5" x2="394" y2="919.5" stroke="#222" stroke-width="2.3" stroke-linecap="butt"/>
<line x1="366" y1="945" x2="394" y2="945" stroke="#222" stroke-width="2.3" stroke-linecap="butt"/>
<line x1="503.7" y1="623.4" x2="503.7" y2="695" stroke="#222" stroke-width="2.3" stroke-linecap="butt"/>
<line x1="489.2" y1="623.4" x2="518.2" y2="623.4" stroke="#222" stroke-width="2.3" stroke-linecap="butt"/>
<line x1="489.2" y1="695" x2="518.2" y2="695" stroke="#222" stroke-width="2.3" stroke-linecap="butt"/>
<line x1="572" y1="659.3" x2="572" y2="743.6" stroke="#222" stroke-width="2.3" stroke-linecap="butt"/>
<line x1="557.5" y1="659.3" x2="586.5" y2="659.3" stroke="#222" stroke-width="2.3" stroke-linecap="butt"/>
<line x1="557.5" y1="743.6" x2="586.5" y2="743.6" stroke="#222" stroke-width="2.3" stroke-linecap="butt"/>
<line x1="641.6" y1="835.6" x2="641.6" y2="867.5" stroke="#222" stroke-width="2.3" stroke-linecap="butt"/>
<line x1="627.1" y1="835.6" x2="656.1" y2="835.6" stroke="#222" stroke-width="2.3" stroke-linecap="butt"/>
<line x1="627.1" y1="867.5" x2="656.1" y2="867.5" stroke="#222" stroke-width="2.3" stroke-linecap="butt"/>
<line x1="710.6" y1="643.3" x2="710.6" y2="699.8" stroke="#222" stroke-width="2.3" stroke-linecap="butt"/>
<line x1="696.1" y1="643.3" x2="725.1" y2="643.3" stroke="#222" stroke-width="2.3" stroke-linecap="butt"/>
<line x1="696.1" y1="699.8" x2="725.1" y2="699.8" stroke="#222" stroke-width="2.3" stroke-linecap="butt"/>
<text x="504.65" y="631.43" font-size="39" letter-spacing="1.9" text-anchor="middle" font-family="'Liberation Sans', Arial, sans-serif" stroke="#000" stroke-width="0.5">****</text>
<text x="572.65" y="666.73" font-size="39" letter-spacing="1.9" text-anchor="middle" font-family="'Liberation Sans', Arial, sans-serif" stroke="#000" stroke-width="0.5">***</text>
<text x="712.15" y="650.83" font-size="39" letter-spacing="1.9" text-anchor="middle" font-family="'Liberation Sans', Arial, sans-serif" stroke="#000" stroke-width="0.5">****</text>
<path d="M501.5,590.3 L501.5,567.2 L641.6,567.2 L641.6,817" fill="none" stroke="#000" stroke-width="5.2" stroke-linecap="round" stroke-linejoin="miter"/>
<text x="572.3" y="556.6" font-size="37.87" text-anchor="middle" font-weight="bold" font-family="'Liberation Serif', 'Times New Roman', serif" >###</text>
<rect x="172.1" y="568.5" width="37.1" height="21.5" fill="#000"/>
<rect x="176.3" y="572.6" width="28.7" height="13.3" fill="#fff"/>
<text x="214.6" y="589.7" font-size="29.5" text-anchor="start" font-weight="bold" font-family="'Liberation Serif', 'Times New Roman', serif" >Naive</text>
<rect x="172.1" y="611.5" width="37.1" height="21" fill="#000"/>
<rect x="176.3" y="615.6" width="28.7" height="12.8" fill="#fff"/>
<circle cx="182.55" cy="622.77" r="1.9"/>
<circle cx="195.15" cy="622.77" r="1.9"/>
<circle cx="176.25" cy="615" r="2.1"/>
<circle cx="176.25" cy="629" r="2.1"/>
<circle cx="188.85" cy="615" r="2.1"/>
<circle cx="188.85" cy="629" r="2.1"/>
<circle cx="201.45" cy="615" r="2.1"/>
<circle cx="201.45" cy="629" r="2.1"/>
<text x="213" y="629.4" font-size="29.5" text-anchor="start" font-weight="bold" font-family="'Liberation Serif', 'Times New Roman', serif" >Vehicle</text>
<rect x="172.1" y="654" width="37.1" height="21.5" fill="#000"/>
<rect x="176.3" y="660.9" width="4.6" height="10.5" fill="#fff"/>
<rect x="192.9" y="660.9" width="12.1" height="10.5" fill="#fff"/>
<rect x="180.9" y="658.1" width="12" height="2.8" fill="#fff"/>
<text x="216.5" y="670.4" font-size="29.5" text-anchor="start" font-weight="bold" font-family="'Liberation Serif', 'Times New Roman', serif" >HYP9</text>
<rect x="172.1" y="696.5" width="37.1" height="21.5" fill="#000"/>
<rect x="176.3" y="700.6" width="28.7" height="13.3" fill="#fff"/>
<polygon points="176.3,701.66 176.3,700.6 183.76,700.6 195.53,713.9 187.21,713.9"/>
<polygon points="197.54,700.6 205,700.6 205,706.45"/>
<text x="218" y="711.3" font-size="29.5" text-anchor="start" font-weight="bold" font-family="'Liberation Serif', 'Times New Roman', serif" >SKF</text>
<text x="958.8" y="529.8" font-size="33.5" text-anchor="start" font-weight="bold" font-family="'Liberation Sans', Arial, sans-serif" >D</text>
<line x1="1082.8" y1="591.7" x2="1082.8" y2="1002.7" stroke="#000" stroke-width="4" stroke-linecap="butt"/>
<line x1="1066" y1="593.2" x2="1082.8" y2="593.2" stroke="#000" stroke-width="4" stroke-linecap="butt"/>
<text x="1033.9" y="606" font-size="30.5" text-anchor="start" font-weight="bold" font-family="'Liberation Serif', 'Times New Roman', serif" >15</text>
<line x1="1066" y1="729.8" x2="1082.8" y2="729.8" stroke="#000" stroke-width="4" stroke-linecap="butt"/>
<text x="1033.6" y="742.3" font-size="30.5" text-anchor="start" font-weight="bold" font-family="'Liberation Serif', 'Times New Roman', serif" >10</text>
<line x1="1066" y1="866.2" x2="1082.8" y2="866.2" stroke="#000" stroke-width="4" stroke-linecap="butt"/>
<text x="1044.6" y="879.5" font-size="30.5" text-anchor="start" font-weight="bold" font-family="'Liberation Serif', 'Times New Roman', serif" >5</text>
<line x1="1066" y1="1002.7" x2="1082.8" y2="1002.7" stroke="#000" stroke-width="4" stroke-linecap="butt"/>
<text x="1044" y="1012.5" font-size="30.5" text-anchor="start" font-weight="bold" font-family="'Liberation Serif', 'Times New Roman', serif" >0</text>
<line x1="1226.5" y1="1002.7" x2="1226.5" y2="1019" stroke="#000" stroke-width="4" stroke-linecap="butt"/>
<text x="1223.2" y="1046" font-size="30" text-anchor="middle" font-weight="bold" font-family="'Liberation Serif', 'Times New Roman', serif" >CON</text>
<line x1="1554" y1="1002.7" x2="1554" y2="1019" stroke="#000" stroke-width="4" stroke-linecap="butt"/>
<text x="1547.3" y="1047" font-size="30" text-anchor="middle" font-weight="bold" font-family="'Liberation Serif', 'Times New Roman', serif" >OGD</text>
<text transform="translate(1015.8,792) rotate(-90)" font-size="30.5" text-anchor="middle" font-weight="bold" font-family="'Liberation Serif', 'Times New Roman', serif" xml:space="preserve">P-NF-κB  / β-actin</text>
<rect x="1099.75" y="982.75" width="47.9" height="19.95" fill="#fff"/>
<path d="M1099.75,1002.7 L1099.75,982.75 L1147.65,982.75 L1147.65,1002.7" fill="none" stroke="#000" stroke-width="5.5" stroke-linejoin="miter"/>
<rect x="1168.35" y="983.15" width="47.7" height="19.55" fill="url(#d13)"/>
<path d="M1168.35,1002.7 L1168.35,983.15 L1216.05,983.15 L1216.05,1002.7" fill="none" stroke="#000" stroke-width="5.5" stroke-linejoin="miter"/>
<rect x="1236.75" y="979.95" width="47.5" height="22.75" fill="url(#c14)"/>
<path d="M1236.75,1002.7 L1236.75,979.95 L1284.25,979.95 L1284.25,1002.7" fill="none" stroke="#000" stroke-width="5.5" stroke-linejoin="miter"/>
<rect x="1304.45" y="969.75" width="48.6" height="32.95" fill="url(#g15)"/>
<path d="M1304.45,1002.7 L1304.45,969.75 L1353.05,969.75 L1353.05,1002.7" fill="none" stroke="#000" stroke-width="5.5" stroke-linejoin="miter"/>
<rect x="1427.65" y="801.75" width="47.4" height="200.95" fill="#fff"/>
<path d="M1427.65,1002.7 L1427.65,801.75 L1475.05,801.75 L1475.05,1002.7" fill="none" stroke="#000" stroke-width="5.5" stroke-linejoin="miter"/>
<rect x="1495.65" y="788.75" width="48.1" height="213.95" fill="url(#d16)"/>
<path d="M1495.65,1002.7 L1495.65,788.75 L1543.75,788.75 L1543.75,1002.7" fill="none" stroke="#000" stroke-width="5.5" stroke-linejoin="miter"/>
<rect x="1564.45" y="916.75" width="47.8" height="85.95" fill="url(#c17)"/>
<path d="M1564.45,1002.7 L1564.45,916.75 L1612.25,916.75 L1612.25,1002.7" fill="none" stroke="#000" stroke-width="5.5" stroke-linejoin="miter"/>
<rect x="1632.25" y="788.75" width="48.1" height="213.95" fill="url(#g18)"/>
<path d="M1632.25,1002.7 L1632.25,788.75 L1680.35,788.75 L1680.35,1002.7" fill="none" stroke="#000" stroke-width="5.5" stroke-linejoin="miter"/>
<line x1="1065.8" y1="1002.7" x2="1697.8" y2="1002.7" stroke="#000" stroke-width="4" stroke-linecap="butt"/>
<line x1="1124" y1="976.6" x2="1124" y2="985" stroke="#222" stroke-width="2.3" stroke-linecap="butt"/>
<line x1="1110" y1="976.6" x2="1138" y2="976.6" stroke="#222" stroke-width="2.3" stroke-linecap="butt"/>
<line x1="1110" y1="985" x2="1138" y2="985" stroke="#222" stroke-width="2.3" stroke-linecap="butt"/>
<line x1="1192" y1="977.2" x2="1192" y2="985" stroke="#222" stroke-width="2.3" stroke-linecap="butt"/>
<line x1="1178" y1="977.2" x2="1206" y2="977.2" stroke="#222" stroke-width="2.3" stroke-linecap="butt"/>
<line x1="1178" y1="985" x2="1206" y2="985" stroke="#222" stroke-width="2.3" stroke-linecap="butt"/>
<line x1="1260.5" y1="974.5" x2="1260.5" y2="985" stroke="#222" stroke-width="2.3" stroke-linecap="butt"/>
<line x1="1246.5" y1="974.5" x2="1274.5" y2="974.5" stroke="#222" stroke-width="2.3" stroke-linecap="butt"/>
<line x1="1246.5" y1="985" x2="1274.5" y2="985" stroke="#222" stroke-width="2.3" stroke-linecap="butt"/>
<line x1="1329" y1="963.7" x2="1329" y2="975" stroke="#222" stroke-width="2.3" stroke-linecap="butt"/>
<line x1="1315" y1="963.7" x2="1343" y2="963.7" stroke="#222" stroke-width="2.3" stroke-linecap="butt"/>
<line x1="1315" y1="975" x2="1343" y2="975" stroke="#222" stroke-width="2.3" stroke-linecap="butt"/>
<line x1="1451.4" y1="775.6" x2="1451.4" y2="821" stroke="#222" stroke-width="2.3" stroke-linecap="butt"/>
<line x1="1437.4" y1="775.6" x2="1465.4" y2="775.6" stroke="#222" stroke-width="2.3" stroke-linecap="butt"/>
<line x1="1437.4" y1="821" x2="1465.4" y2="821" stroke="#222" stroke-width="2.3" stroke-linecap="butt"/>
<line x1="1518.9" y1="736.3" x2="1518.9" y2="834" stroke="#222" stroke-width="2.3" stroke-linecap="butt"/>
<line x1="1504.9" y1="736.3" x2="1532.9" y2="736.3" stroke="#222" stroke-width="2.3" stroke-linecap="butt"/>
<line x1="1504.9" y1="834" x2="1532.9" y2="834" stroke="#222" stroke-width="2.3" stroke-linecap="butt"/>
<line x1="1588" y1="899.9" x2="1588" y2="928" stroke="#222" stroke-width="2.3" stroke-linecap="butt"/>
<line x1="1574" y1="899.9" x2="1602" y2="899.9" stroke="#222" stroke-width="2.3" stroke-linecap="butt"/>
<line x1="1574" y1="928" x2="1602" y2="928" stroke="#222" stroke-width="2.3" stroke-linecap="butt"/>
<line x1="1656.8" y1="751.4" x2="1656.8" y2="818.4" stroke="#222" stroke-width="2.3" stroke-linecap="butt"/>
<line x1="1642.8" y1="751.4" x2="1670.8" y2="751.4" stroke="#222" stroke-width="2.3" stroke-linecap="butt"/>
<line x1="1642.8" y1="818.4" x2="1670.8" y2="818.4" stroke="#222" stroke-width="2.3" stroke-linecap="butt"/>
<text x="1454.15" y="784.33" font-size="39" letter-spacing="1.9" text-anchor="middle" font-family="'Liberation Sans', Arial, sans-serif" stroke="#000" stroke-width="0.5">***</text>
<text x="1519.95" y="742.23" font-size="39" letter-spacing="1.9" text-anchor="middle" font-family="'Liberation Sans', Arial, sans-serif" stroke="#000" stroke-width="0.5">***</text>
<text x="1659.15" y="758.43" font-size="39" letter-spacing="1.9" text-anchor="middle" font-family="'Liberation Sans', Arial, sans-serif" stroke="#000" stroke-width="0.5">***</text>
<path d="M1451.4,713.4 L1451.4,681.6 L1588,681.6 L1588,888" fill="none" stroke="#000" stroke-width="5.2" stroke-linecap="round" stroke-linejoin="miter"/>
<text x="1520.2" y="671.9" font-size="36.83" text-anchor="middle" font-weight="bold" font-family="'Liberation Serif', 'Times New Roman', serif" >#</text>
<rect x="1125.2" y="609.6" width="36.8" height="21.7" fill="#000"/>
<rect x="1129.4" y="613.6" width="28.4" height="13.7" fill="#fff"/>
<text x="1167.6" y="630.7" font-size="29.5" text-anchor="start" font-weight="bold" font-family="'Liberation Serif', 'Times New Roman', serif" >Naive</text>
<rect x="1125.2" y="652.2" width="36.8" height="21.7" fill="#000"/>
<rect x="1129.4" y="656.2" width="28.4" height="13.7" fill="#fff"/>
<circle cx="1135.5" cy="663.87" r="1.9"/>
<circle cx="1148.1" cy="663.87" r="1.9"/>
<circle cx="1129.2" cy="655.6" r="2.1"/>
<circle cx="1129.2" cy="670.5" r="2.1"/>
<circle cx="1141.8" cy="655.6" r="2.1"/>
<circle cx="1141.8" cy="670.5" r="2.1"/>
<circle cx="1154.4" cy="655.6" r="2.1"/>
<circle cx="1154.4" cy="670.5" r="2.1"/>
<text x="1165.4" y="671" font-size="29.5" text-anchor="start" font-weight="bold" font-family="'Liberation Serif', 'Times New Roman', serif" >Vehicle</text>
<rect x="1125.2" y="695" width="36.8" height="21.5" fill="#000"/>
<rect x="1129.4" y="701.8" width="4.6" height="10.7" fill="#fff"/>
<rect x="1146" y="701.8" width="11.8" height="10.7" fill="#fff"/>
<rect x="1134" y="699" width="12" height="2.8" fill="#fff"/>
<text x="1169" y="712.5" font-size="29.5" text-anchor="start" font-weight="bold" font-family="'Liberation Serif', 'Times New Roman', serif" >HYP9</text>
<rect x="1125.2" y="737.8" width="36.8" height="21.3" fill="#000"/>
<rect x="1129.4" y="741.8" width="28.4" height="13.3" fill="#fff"/>
<polygon points="1129.4,742.86 1129.4,741.8 1136.78,741.8 1148.43,755.1 1140.19,755.1"/>
<polygon points="1150.42,741.8 1157.8,741.8 1157.8,747.65"/>
<text x="1169.5" y="752.8" font-size="29.5" text-anchor="start" font-weight="bold" font-family="'Liberation Serif', 'Times New Roman', serif" >SKF</text>
<text x="6.1" y="1542.6" font-size="33.5" text-anchor="start" font-weight="bold" font-family="'Liberation Sans', Arial, sans-serif" >F</text>
<line x1="159.4" y1="1574.1" x2="159.4" y2="1986.7" stroke="#000" stroke-width="4" stroke-linecap="butt"/>
<line x1="144" y1="1575.6" x2="159.4" y2="1575.6" stroke="#000" stroke-width="4" stroke-linecap="butt"/>
<text x="126.9" y="1585.8" font-size="30.5" text-anchor="middle" font-weight="bold" font-family="'Liberation Serif', 'Times New Roman', serif" >10</text>
<line x1="144" y1="1657.3" x2="159.4" y2="1657.3" stroke="#000" stroke-width="4" stroke-linecap="butt"/>
<text x="126.1" y="1666.5" font-size="30.5" text-anchor="middle" font-weight="bold" font-family="'Liberation Serif', 'Times New Roman', serif" >8</text>
<line x1="144" y1="1739.8" x2="159.4" y2="1739.8" stroke="#000" stroke-width="4" stroke-linecap="butt"/>
<text x="126.1" y="1749.3" font-size="30.5" text-anchor="middle" font-weight="bold" font-family="'Liberation Serif', 'Times New Roman', serif" >6</text>
<line x1="144" y1="1822" x2="159.4" y2="1822" stroke="#000" stroke-width="4" stroke-linecap="butt"/>
<text x="126.1" y="1831.8" font-size="30.5" text-anchor="middle" font-weight="bold" font-family="'Liberation Serif', 'Times New Roman', serif" >4</text>
<line x1="144" y1="1904" x2="159.4" y2="1904" stroke="#000" stroke-width="4" stroke-linecap="butt"/>
<text x="126.1" y="1913.8" font-size="30.5" text-anchor="middle" font-weight="bold" font-family="'Liberation Serif', 'Times New Roman', serif" >2</text>
<line x1="144" y1="1986.7" x2="159.4" y2="1986.7" stroke="#000" stroke-width="4" stroke-linecap="butt"/>
<text x="126.6" y="1996.3" font-size="30.5" text-anchor="middle" font-weight="bold" font-family="'Liberation Serif', 'Times New Roman', serif" >0</text>
<line x1="304.5" y1="1986.7" x2="304.5" y2="2003" stroke="#000" stroke-width="4" stroke-linecap="butt"/>
<text x="307.5" y="2026" font-size="30" text-anchor="middle" font-weight="bold" font-family="'Liberation Serif', 'Times New Roman', serif" >CON</text>
<line x1="629.5" y1="1986.7" x2="629.5" y2="2003" stroke="#000" stroke-width="4" stroke-linecap="butt"/>
<text x="624" y="2025.5" font-size="30" text-anchor="middle" font-weight="bold" font-family="'Liberation Serif', 'Times New Roman', serif" >OGD</text>
<text transform="translate(105.5,1750) rotate(-90)" font-size="30.5" text-anchor="middle" font-weight="bold" font-family="'Liberation Serif', 'Times New Roman', serif" xml:space="preserve">NF-κB  / β-actin</text>
<rect x="173.75" y="1947.35" width="38.1" height="39.35" fill="#fff"/>
<path d="M173.75,1986.7 L173.75,1947.35 L211.85,1947.35 L211.85,1986.7" fill="none" stroke="#000" stroke-width="5.5" stroke-linejoin="miter"/>
<rect x="229.75" y="1932.75" width="37.9" height="53.95" fill="url(#d19)"/>
<path d="M229.75,1986.7 L229.75,1932.75 L267.65,1932.75 L267.65,1986.7" fill="none" stroke="#000" stroke-width="5.5" stroke-linejoin="miter"/>
<rect x="285.75" y="1934.55" width="37.9" height="52.15" fill="url(#c20)"/>
<path d="M285.75,1986.7 L285.75,1934.55 L323.65,1934.55 L323.65,1986.7" fill="none" stroke="#000" stroke-width="5.5" stroke-linejoin="miter"/>
<rect x="342.25" y="1937.25" width="37.3" height="49.45" fill="url(#h21)"/>
<path d="M342.25,1986.7 L342.25,1937.25 L379.55,1937.25 L379.55,1986.7" fill="none" stroke="#000" stroke-width="5.5" stroke-linejoin="miter"/>
<rect x="397.95" y="1932.75" width="37.4" height="53.95" fill="url(#g22)"/>
<path d="M397.95,1986.7 L397.95,1932.75 L435.35,1932.75 L435.35,1986.7" fill="none" stroke="#000" stroke-width="5.5" stroke-linejoin="miter"/>
<rect x="498.05" y="1704.25" width="37.5" height="282.45" fill="#fff"/>
<path d="M498.05,1986.7 L498.05,1704.25 L535.55,1704.25 L535.55,1986.7" fill="none" stroke="#000" stroke-width="5.5" stroke-linejoin="miter"/>
<rect x="554.55" y="1731.05" width="37.1" height="255.65" fill="url(#d23)"/>
<path d="M554.55,1986.7 L554.55,1731.05 L591.65,1731.05 L591.65,1986.7" fill="none" stroke="#000" stroke-width="5.5" stroke-linejoin="miter"/>
<rect x="610.25" y="1887.25" width="37.5" height="99.45" fill="url(#c24)"/>
<path d="M610.25,1986.7 L610.25,1887.25 L647.75,1887.25 L647.75,1986.7" fill="none" stroke="#000" stroke-width="5.5" stroke-linejoin="miter"/>
<rect x="666.35" y="1759.15" width="37" height="227.55" fill="url(#h25)"/>
<path d="M666.35,1986.7 L666.35,1759.15 L703.35,1759.15 L703.35,1986.7" fill="none" stroke="#000" stroke-width="5.5" stroke-linejoin="miter"/>
<rect x="722.45" y="1747.45" width="37.1" height="239.25" fill="url(#g26)"/>
<path d="M722.45,1986.7 L722.45,1747.45 L759.55,1747.45 L759.55,1986.7" fill="none" stroke="#000" stroke-width="5.5" stroke-linejoin="miter"/>
<line x1="144" y1="1986.7" x2="774" y2="1986.7" stroke="#000" stroke-width="4" stroke-linecap="butt"/>
<line x1="192.8" y1="1943" x2="192.8" y2="1946" stroke="#222" stroke-width="2.3" stroke-linecap="butt"/>
<line x1="181.3" y1="1943" x2="204.3" y2="1943" stroke="#222" stroke-width="2.3" stroke-linecap="butt"/>
<line x1="181.3" y1="1946" x2="204.3" y2="1946" stroke="#222" stroke-width="2.3" stroke-linecap="butt"/>
<line x1="248.7" y1="1918.2" x2="248.7" y2="1940.1" stroke="#222" stroke-width="2.3" stroke-linecap="butt"/>
<line x1="237.2" y1="1918.2" x2="260.2" y2="1918.2" stroke="#222" stroke-width="2.3" stroke-linecap="butt"/>
<line x1="237.2" y1="1940.1" x2="260.2" y2="1940.1" stroke="#222" stroke-width="2.3" stroke-linecap="butt"/>
<line x1="304.7" y1="1928.8" x2="304.7" y2="1936" stroke="#222" stroke-width="2.3" stroke-linecap="butt"/>
<line x1="293.2" y1="1928.8" x2="316.2" y2="1928.8" stroke="#222" stroke-width="2.3" stroke-linecap="butt"/>
<line x1="293.2" y1="1936" x2="316.2" y2="1936" stroke="#222" stroke-width="2.3" stroke-linecap="butt"/>
<line x1="360.9" y1="1931" x2="360.9" y2="1938" stroke="#222" stroke-width="2.3" stroke-linecap="butt"/>
<line x1="349.4" y1="1931" x2="372.4" y2="1931" stroke="#222" stroke-width="2.3" stroke-linecap="butt"/>
<line x1="349.4" y1="1938" x2="372.4" y2="1938" stroke="#222" stroke-width="2.3" stroke-linecap="butt"/>
<line x1="416.6" y1="1925.4" x2="416.6" y2="1935" stroke="#222" stroke-width="2.3" stroke-linecap="butt"/>
<line x1="405.1" y1="1925.4" x2="428.1" y2="1925.4" stroke="#222" stroke-width="2.3" stroke-linecap="butt"/>
<line x1="405.1" y1="1935" x2="428.1" y2="1935" stroke="#222" stroke-width="2.3" stroke-linecap="butt"/>
<line x1="517.5" y1="1660" x2="517.5" y2="1740.5" stroke="#222" stroke-width="2.3" stroke-linecap="butt"/>
<line x1="506" y1="1660" x2="529" y2="1660" stroke="#222" stroke-width="2.3" stroke-linecap="butt"/>
<line x1="506" y1="1740.5" x2="529" y2="1740.5" stroke="#222" stroke-width="2.3" stroke-linecap="butt"/>
<line x1="572.4" y1="1695.6" x2="572.4" y2="1760" stroke="#222" stroke-width="2.3" stroke-linecap="butt"/>
<line x1="560.9" y1="1695.6" x2="583.9" y2="1695.6" stroke="#222" stroke-width="2.3" stroke-linecap="butt"/>
<line x1="560.9" y1="1760" x2="583.9" y2="1760" stroke="#222" stroke-width="2.3" stroke-linecap="butt"/>
<line x1="629" y1="1859.3" x2="629" y2="1908.4" stroke="#222" stroke-width="2.3" stroke-linecap="butt"/>
<line x1="617.5" y1="1859.3" x2="640.5" y2="1859.3" stroke="#222" stroke-width="2.3" stroke-linecap="butt"/>
<line x1="617.5" y1="1908.4" x2="640.5" y2="1908.4" stroke="#222" stroke-width="2.3" stroke-linecap="butt"/>
<line x1="684.6" y1="1698" x2="684.6" y2="1812.5" stroke="#222" stroke-width="2.3" stroke-linecap="butt"/>
<line x1="673.1" y1="1698" x2="696.1" y2="1698" stroke="#222" stroke-width="2.3" stroke-linecap="butt"/>
<line x1="673.1" y1="1812.5" x2="696.1" y2="1812.5" stroke="#222" stroke-width="2.3" stroke-linecap="butt"/>
<line x1="741.2" y1="1686.3" x2="741.2" y2="1802" stroke="#222" stroke-width="2.3" stroke-linecap="butt"/>
<line x1="729.7" y1="1686.3" x2="752.7" y2="1686.3" stroke="#222" stroke-width="2.3" stroke-linecap="butt"/>
<line x1="729.7" y1="1802" x2="752.7" y2="1802" stroke="#222" stroke-width="2.3" stroke-linecap="butt"/>
<text x="518.35" y="1669.03" font-size="39" letter-spacing="1.9" text-anchor="middle" font-family="'Liberation Sans', Arial, sans-serif" stroke="#000" stroke-width="0.5">***</text>
<text x="574.25" y="1706.43" font-size="39" letter-spacing="1.9" text-anchor="middle" font-family="'Liberation Sans', Arial, sans-serif" stroke="#000" stroke-width="0.5">**</text>
<text x="687.85" y="1705.23" font-size="39" letter-spacing="1.9" text-anchor="middle" font-family="'Liberation Sans', Arial, sans-serif" stroke="#000" stroke-width="0.5">*</text>
<text x="740.95" y="1692.43" font-size="39" letter-spacing="1.9" text-anchor="middle" font-family="'Liberation Sans', Arial, sans-serif" stroke="#000" stroke-width="0.5">**</text>
<path d="M517.5,1627.8 L517.5,1597.4 L629,1597.4 L629,1634.4" fill="none" stroke="#000" stroke-width="5.2" stroke-linecap="round" stroke-linejoin="miter"/>
<text x="573.7" y="1585.7" font-size="32.84" text-anchor="middle" font-weight="bold" font-family="'Liberation Serif', 'Times New Roman', serif" >#</text>
<rect x="223.6" y="1563" width="42.1" height="19.3" fill="#000"/>
<rect x="228.7" y="1566.4" width="31.9" height="12.5" fill="#fff"/>
<text x="275.6" y="1585.1" font-size="30" text-anchor="start" font-weight="bold" font-family="'Liberation Serif', 'Times New Roman', serif" >Naive</text>
<rect x="223.6" y="1601.4" width="42.1" height="19.1" fill="#000"/>
<rect x="228.7" y="1604.8" width="31.9" height="12.3" fill="#fff"/>
<circle cx="236.55" cy="1611.69" r="1.9"/>
<circle cx="249.15" cy="1611.69" r="1.9"/>
<circle cx="230.25" cy="1604.2" r="2.1"/>
<circle cx="230.25" cy="1617.7" r="2.1"/>
<circle cx="242.85" cy="1604.2" r="2.1"/>
<circle cx="242.85" cy="1617.7" r="2.1"/>
<circle cx="255.45" cy="1604.2" r="2.1"/>
<circle cx="255.45" cy="1617.7" r="2.1"/>
<text x="275.6" y="1621.3" font-size="30" text-anchor="start" font-weight="bold" font-family="'Liberation Serif', 'Times New Roman', serif" >Vehicle1</text>
<rect x="223.6" y="1639.5" width="42.1" height="19.1" fill="#000"/>
<rect x="228.7" y="1645.5" width="6.1" height="9.7" fill="#fff"/>
<rect x="248.5" y="1645.5" width="12.1" height="9.7" fill="#fff"/>
<rect x="234.8" y="1642.9" width="13.7" height="2.6" fill="#fff"/>
<text x="275.6" y="1657.4" font-size="30" text-anchor="start" font-weight="bold" font-family="'Liberation Serif', 'Times New Roman', serif" >WT-TRPC6</text>
<rect x="223.6" y="1678.2" width="42.1" height="18.6" fill="#000"/>
<rect x="228.7" y="1684.1" width="31.9" height="2.7" fill="#fff"/>
<rect x="228.7" y="1689.1" width="31.9" height="2.7" fill="#fff"/>
<text x="275.6" y="1693.5" font-size="30" text-anchor="start" font-weight="bold" font-family="'Liberation Serif', 'Times New Roman', serif" >Vehicle2</text>
<rect x="223.6" y="1716.4" width="42.1" height="19.1" fill="#000"/>
<rect x="228.7" y="1719.8" width="31.9" height="12.3" fill="#fff"/>
<polygon points="231.57,1719.8 244.33,1719.8 259.32,1732.1 247.84,1732.1"/>
<text x="274.4" y="1730.7" font-size="30" text-anchor="start" font-weight="bold" font-family="'Liberation Serif', 'Times New Roman', serif" >sh-TRPC6</text>
<text x="960.2" y="1543.3" font-size="33.5" text-anchor="start" font-weight="bold" font-family="'Liberation Sans', Arial, sans-serif" >G</text>
<line x1="1067.6" y1="1570.9" x2="1067.6" y2="1985.2" stroke="#000" stroke-width="4" stroke-linecap="butt"/>
<line x1="1053.8" y1="1572.4" x2="1067.6" y2="1572.4" stroke="#000" stroke-width="4" stroke-linecap="butt"/>
<text x="1036.9" y="1585.6" font-size="30.5" text-anchor="middle" font-weight="bold" font-family="'Liberation Serif', 'Times New Roman', serif" >10</text>
<line x1="1053.8" y1="1655" x2="1067.6" y2="1655" stroke="#000" stroke-width="4" stroke-linecap="butt"/>
<text x="1037.7" y="1666.3" font-size="30.5" text-anchor="middle" font-weight="bold" font-family="'Liberation Serif', 'Times New Roman', serif" >8</text>
<line x1="1053.8" y1="1737.8" x2="1067.6" y2="1737.8" stroke="#000" stroke-width="4" stroke-linecap="butt"/>
<text x="1037.7" y="1749.1" font-size="30.5" text-anchor="middle" font-weight="bold" font-family="'Liberation Serif', 'Times New Roman', serif" >6</text>
<line x1="1053.8" y1="1820.1" x2="1067.6" y2="1820.1" stroke="#000" stroke-width="4" stroke-linecap="butt"/>
<text x="1037.7" y="1831.3" font-size="30.5" text-anchor="middle" font-weight="bold" font-family="'Liberation Serif', 'Times New Roman', serif" >4</text>
<line x1="1053.8" y1="1902.5" x2="1067.6" y2="1902.5" stroke="#000" stroke-width="4" stroke-linecap="butt"/>
<text x="1037.7" y="1913.8" font-size="30.5" text-anchor="middle" font-weight="bold" font-family="'Liberation Serif', 'Times New Roman', serif" >2</text>
<line x1="1053.8" y1="1985.2" x2="1067.6" y2="1985.2" stroke="#000" stroke-width="4" stroke-linecap="butt"/>
<text x="1037.5" y="1994.8" font-size="30.5" text-anchor="middle" font-weight="bold" font-family="'Liberation Serif', 'Times New Roman', serif" >0</text>
<line x1="1213.6" y1="1985.2" x2="1213.6" y2="2002.8" stroke="#000" stroke-width="4" stroke-linecap="butt"/>
<text x="1218.5" y="2023.6" font-size="30" text-anchor="middle" font-weight="bold" font-family="'Liberation Serif', 'Times New Roman', serif" >CON</text>
<line x1="1538.6" y1="1985.2" x2="1538.6" y2="2002.8" stroke="#000" stroke-width="4" stroke-linecap="butt"/>
<text x="1535" y="2023.6" font-size="30" text-anchor="middle" font-weight="bold" font-family="'Liberation Serif', 'Times New Roman', serif" >OGD</text>
<text transform="translate(1017.5,1764.5) rotate(-90)" font-size="30.5" text-anchor="middle" font-weight="bold" font-family="'Liberation Serif', 'Times New Roman', serif" xml:space="preserve">P-NF-κB  / β-actin</text>
<rect x="1081.65" y="1945.95" width="38.4" height="39.25" fill="#fff"/>
<path d="M1081.65,1985.2 L1081.65,1945.95 L1120.05,1945.95 L1120.05,1985.2" fill="none" stroke="#000" stroke-width="5.5" stroke-linejoin="miter"/>
<rect x="1138.45" y="1937.35" width="37.6" height="47.85" fill="url(#d27)"/>
<path d="M1138.45,1985.2 L1138.45,1937.35 L1176.05,1937.35 L1176.05,1985.2" fill="none" stroke="#000" stroke-width="5.5" stroke-linejoin="miter"/>
<rect x="1194.95" y="1939.75" width="37.1" height="45.45" fill="url(#c28)"/>
<path d="M1194.95,1985.2 L1194.95,1939.75 L1232.05,1939.75 L1232.05,1985.2" fill="none" stroke="#000" stroke-width="5.5" stroke-linejoin="miter"/>
<rect x="1250.95" y="1942.25" width="37.9" height="42.95" fill="url(#h29)"/>
<path d="M1250.95,1985.2 L1250.95,1942.25 L1288.85,1942.25 L1288.85,1985.2" fill="none" stroke="#000" stroke-width="5.5" stroke-linejoin="miter"/>
<rect x="1307.05" y="1936.15" width="37.8" height="49.05" fill="url(#g30)"/>
<path d="M1307.05,1985.2 L1307.05,1936.15 L1344.85,1936.15 L1344.85,1985.2" fill="none" stroke="#000" stroke-width="5.5" stroke-linejoin="miter"/>
<rect x="1407.85" y="1671.85" width="37.9" height="313.35" fill="#fff"/>
<path d="M1407.85,1985.2 L1407.85,1671.85 L1445.75,1671.85 L1445.75,1985.2" fill="none" stroke="#000" stroke-width="5.5" stroke-linejoin="miter"/>
<rect x="1464.65" y="1732.75" width="37.1" height="252.45" fill="url(#d31)"/>
<path d="M1464.65,1985.2 L1464.65,1732.75 L1501.75,1732.75 L1501.75,1985.2" fill="none" stroke="#000" stroke-width="5.5" stroke-linejoin="miter"/>
<rect x="1519.95" y="1922.75" width="37.8" height="62.45" fill="url(#c32)"/>
<path d="M1519.95,1985.2 L1519.95,1922.75 L1557.75,1922.75 L1557.75,1985.2" fill="none" stroke="#000" stroke-width="5.5" stroke-linejoin="miter"/>
<rect x="1575.95" y="1744.45" width="38.3" height="240.75" fill="url(#h33)"/>
<path d="M1575.95,1985.2 L1575.95,1744.45 L1614.25,1744.45 L1614.25,1985.2" fill="none" stroke="#000" stroke-width="5.5" stroke-linejoin="miter"/>
<rect x="1632.75" y="1718.15" width="37.5" height="267.05" fill="url(#g34)"/>
<path d="M1632.75,1985.2 L1632.75,1718.15 L1670.25,1718.15 L1670.25,1985.2" fill="none" stroke="#000" stroke-width="5.5" stroke-linejoin="miter"/>
<line x1="1053.6" y1="1985.2" x2="1684.8" y2="1985.2" stroke="#000" stroke-width="4" stroke-linecap="butt"/>
<line x1="1100.8" y1="1942" x2="1100.8" y2="1945" stroke="#222" stroke-width="2.3" stroke-linecap="butt"/>
<line x1="1089.3" y1="1942" x2="1112.3" y2="1942" stroke="#222" stroke-width="2.3" stroke-linecap="butt"/>
<line x1="1089.3" y1="1945" x2="1112.3" y2="1945" stroke="#222" stroke-width="2.3" stroke-linecap="butt"/>
<line x1="1157.3" y1="1929.3" x2="1157.3" y2="1940" stroke="#222" stroke-width="2.3" stroke-linecap="butt"/>
<line x1="1145.8" y1="1929.3" x2="1168.8" y2="1929.3" stroke="#222" stroke-width="2.3" stroke-linecap="butt"/>
<line x1="1145.8" y1="1940" x2="1168.8" y2="1940" stroke="#222" stroke-width="2.3" stroke-linecap="butt"/>
<line x1="1213.5" y1="1931" x2="1213.5" y2="1940" stroke="#222" stroke-width="2.3" stroke-linecap="butt"/>
<line x1="1202" y1="1931" x2="1225" y2="1931" stroke="#222" stroke-width="2.3" stroke-linecap="butt"/>
<line x1="1202" y1="1940" x2="1225" y2="1940" stroke="#222" stroke-width="2.3" stroke-linecap="butt"/>
<line x1="1269.9" y1="1934.6" x2="1269.9" y2="1942" stroke="#222" stroke-width="2.3" stroke-linecap="butt"/>
<line x1="1258.4" y1="1934.6" x2="1281.4" y2="1934.6" stroke="#222" stroke-width="2.3" stroke-linecap="butt"/>
<line x1="1258.4" y1="1942" x2="1281.4" y2="1942" stroke="#222" stroke-width="2.3" stroke-linecap="butt"/>
<line x1="1326" y1="1924.4" x2="1326" y2="1939.5" stroke="#222" stroke-width="2.3" stroke-linecap="butt"/>
<line x1="1314.5" y1="1924.4" x2="1337.5" y2="1924.4" stroke="#222" stroke-width="2.3" stroke-linecap="butt"/>
<line x1="1314.5" y1="1939.5" x2="1337.5" y2="1939.5" stroke="#222" stroke-width="2.3" stroke-linecap="butt"/>
<line x1="1427.3" y1="1621.6" x2="1427.3" y2="1713.4" stroke="#222" stroke-width="2.3" stroke-linecap="butt"/>
<line x1="1415.8" y1="1621.6" x2="1438.8" y2="1621.6" stroke="#222" stroke-width="2.3" stroke-linecap="butt"/>
<line x1="1415.8" y1="1713.4" x2="1438.8" y2="1713.4" stroke="#222" stroke-width="2.3" stroke-linecap="butt"/>
<line x1="1482.6" y1="1674.7" x2="1482.6" y2="1782.4" stroke="#222" stroke-width="2.3" stroke-linecap="butt"/>
<line x1="1471.1" y1="1674.7" x2="1494.1" y2="1674.7" stroke="#222" stroke-width="2.3" stroke-linecap="butt"/>
<line x1="1471.1" y1="1782.4" x2="1494.1" y2="1782.4" stroke="#222" stroke-width="2.3" stroke-linecap="butt"/>
<line x1="1538.6" y1="1904.2" x2="1538.6" y2="1936" stroke="#222" stroke-width="2.3" stroke-linecap="butt"/>
<line x1="1527.1" y1="1904.2" x2="1550.1" y2="1904.2" stroke="#222" stroke-width="2.3" stroke-linecap="butt"/>
<line x1="1527.1" y1="1936" x2="1550.1" y2="1936" stroke="#222" stroke-width="2.3" stroke-linecap="butt"/>
<line x1="1595.1" y1="1718.3" x2="1595.1" y2="1763.6" stroke="#222" stroke-width="2.3" stroke-linecap="butt"/>
<line x1="1583.6" y1="1718.3" x2="1606.6" y2="1718.3" stroke="#222" stroke-width="2.3" stroke-linecap="butt"/>
<line x1="1583.6" y1="1763.6" x2="1606.6" y2="1763.6" stroke="#222" stroke-width="2.3" stroke-linecap="butt"/>
<line x1="1651.9" y1="1676" x2="1651.9" y2="1754.9" stroke="#222" stroke-width="2.3" stroke-linecap="butt"/>
<line x1="1640.4" y1="1676" x2="1663.4" y2="1676" stroke="#222" stroke-width="2.3" stroke-linecap="butt"/>
<line x1="1640.4" y1="1754.9" x2="1663.4" y2="1754.9" stroke="#222" stroke-width="2.3" stroke-linecap="butt"/>
<text x="1428.45" y="1629.83" font-size="39" letter-spacing="1.9" text-anchor="middle" font-family="'Liberation Sans', Arial, sans-serif" stroke="#000" stroke-width="0.5">****</text>
<text x="1482.95" y="1684.03" font-size="39" letter-spacing="1.9" text-anchor="middle" font-family="'Liberation Sans', Arial, sans-serif" stroke="#000" stroke-width="0.5">***</text>
<text x="1593.55" y="1723.93" font-size="39" letter-spacing="1.9" text-anchor="middle" font-family="'Liberation Sans', Arial, sans-serif" stroke="#000" stroke-width="0.5">**</text>
<text x="1651.55" y="1684.93" font-size="39" letter-spacing="1.9" text-anchor="middle" font-family="'Liberation Sans', Arial, sans-serif" stroke="#000" stroke-width="0.5">***</text>
<path d="M1427,1582.6 L1427,1563.9 L1528.4,1563.9 L1528.4,1582.6" fill="none" stroke="#000" stroke-width="5.2" stroke-linecap="round" stroke-linejoin="miter"/>
<path d="M1486.2,1652.5 L1486.2,1640.4 L1539.8,1640.4 L1539.8,1652.5" fill="none" stroke="#000" stroke-width="5.2" stroke-linecap="round" stroke-linejoin="miter"/>
<text x="1478" y="1550.6" font-size="34.47" text-anchor="middle" font-weight="bold" font-family="'Liberation Serif', 'Times New Roman', serif" >####</text>
<text x="1513.2" y="1627.7" font-size="34.17" text-anchor="middle" font-weight="bold" font-family="'Liberation Serif', 'Times New Roman', serif" >##</text>
<rect x="1135" y="1558.3" width="42.1" height="18.7" fill="#000"/>
<rect x="1140.1" y="1561.7" width="31.9" height="11.9" fill="#fff"/>
<text x="1186" y="1577.8" font-size="30" text-anchor="start" font-weight="bold" font-family="'Liberation Serif', 'Times New Roman', serif" >Naive</text>
<rect x="1135" y="1596.5" width="42.1" height="17.8" fill="#000"/>
<rect x="1140.1" y="1599.9" width="31.9" height="11" fill="#fff"/>
<circle cx="1147.95" cy="1606.06" r="1.9"/>
<circle cx="1160.55" cy="1606.06" r="1.9"/>
<circle cx="1141.65" cy="1599.3" r="2.1"/>
<circle cx="1141.65" cy="1611.5" r="2.1"/>
<circle cx="1154.25" cy="1599.3" r="2.1"/>
<circle cx="1154.25" cy="1611.5" r="2.1"/>
<circle cx="1166.85" cy="1599.3" r="2.1"/>
<circle cx="1166.85" cy="1611.5" r="2.1"/>
<text x="1186.8" y="1614.5" font-size="30" text-anchor="start" font-weight="bold" font-family="'Liberation Serif', 'Times New Roman', serif" >Vehicle1</text>
<rect x="1135" y="1633.8" width="42.1" height="18.7" fill="#000"/>
<rect x="1140.1" y="1639.8" width="6.1" height="9.3" fill="#fff"/>
<rect x="1159.9" y="1639.8" width="12.1" height="9.3" fill="#fff"/>
<rect x="1146.2" y="1637.2" width="13.7" height="2.6" fill="#fff"/>
<text x="1187.3" y="1651.5" font-size="30" text-anchor="start" font-weight="bold" font-family="'Liberation Serif', 'Times New Roman', serif" >WT-TRPC6</text>
<rect x="1135" y="1672.3" width="42.1" height="18.2" fill="#000"/>
<rect x="1140.1" y="1678.07" width="31.9" height="2.64" fill="#fff"/>
<rect x="1140.1" y="1682.97" width="31.9" height="2.64" fill="#fff"/>
<text x="1187" y="1689.5" font-size="30" text-anchor="start" font-weight="bold" font-family="'Liberation Serif', 'Times New Roman', serif" >Vehicle2</text>
<rect x="1135" y="1710.5" width="42.1" height="19" fill="#000"/>
<rect x="1140.1" y="1713.9" width="31.9" height="12.2" fill="#fff"/>
<polygon points="1142.97,1713.9 1155.73,1713.9 1170.72,1726.1 1159.24,1726.1"/>
<text x="1186" y="1727.5" font-size="30" text-anchor="start" font-weight="bold" font-family="'Liberation Serif', 'Times New Roman', serif" >sh-TRPC6</text>
<text x="398.3" y="1125.6" font-size="33.5" text-anchor="start" font-weight="bold" font-family="'Liberation Sans', Arial, sans-serif" >E</text>
<text x="749.5" y="1117.3" font-size="30" text-anchor="middle" font-weight="bold" font-family="'Liberation Serif', 'Times New Roman', serif" >CON</text>
<text x="1081" y="1116.8" font-size="30" text-anchor="middle" font-weight="bold" font-family="'Liberation Serif', 'Times New Roman', serif" >OGD</text>
<line x1="582.2" y1="1122.6" x2="891.2" y2="1122.6" stroke="#000" stroke-width="3.4" stroke-linecap="butt"/>
<line x1="929.9" y1="1123" x2="1238.6" y2="1123" stroke="#000" stroke-width="3.4" stroke-linecap="butt"/>
<rect x="578.5" y="1134.5" width="660.7" height="52.4" fill="#f8f8f8"/>
<rect x="580" y="1136" width="657.7" height="49.4" fill="#000" filter="url(#nz)"/>
<rect x="579.9" y="1209.5" width="659.3" height="51.7" fill="#f8f8f8"/>
<rect x="581.4" y="1211" width="656.3" height="48.7" fill="#000" filter="url(#nz)"/>
<rect x="580.8" y="1284.7" width="658.4" height="51" fill="#f8f8f8"/>
<rect x="582.3" y="1286.2" width="655.4" height="48" fill="#000" filter="url(#nz)"/>
<rect x="596" y="1161.5" width="41" height="19" rx="9.5" fill="#000" fill-opacity="0.02" filter="url(#bl2)"/>
<rect x="598.5" y="1167.5" width="36" height="5" rx="2.5" fill="#000" fill-opacity="0.1" filter="url(#bl)"/>
<rect x="654" y="1161.5" width="44" height="19" rx="9.5" fill="#000" fill-opacity="0.02" filter="url(#bl2)"/>
<rect x="656.5" y="1167.5" width="39" height="5" rx="2.5" fill="#000" fill-opacity="0.12" filter="url(#bl)"/>
<rect x="712" y="1161.5" width="46" height="19" rx="9.5" fill="#000" fill-opacity="0.02" filter="url(#bl2)"/>
<rect x="714.5" y="1167.5" width="41" height="5" rx="2.5" fill="#000" fill-opacity="0.12" filter="url(#bl)"/>
<rect x="769" y="1161.5" width="43" height="19" rx="9.5" fill="#000" fill-opacity="0.02" filter="url(#bl2)"/>
<rect x="771.5" y="1167.5" width="38" height="5" rx="2.5" fill="#000" fill-opacity="0.12" filter="url(#bl)"/>
<rect x="829" y="1161.5" width="52" height="19" rx="9.5" fill="#000" fill-opacity="0.02" filter="url(#bl2)"/>
<rect x="831.5" y="1167.5" width="47" height="5" rx="2.5" fill="#000" fill-opacity="0.12" filter="url(#bl)"/>
<rect x="933.4" y="1151.1" width="49.6" height="29" rx="14.5" fill="#000" fill-opacity="0.16" filter="url(#bl2)"/>
<rect x="935.9" y="1157.1" width="44.6" height="15" rx="7.5" fill="#000" fill-opacity="1.0" filter="url(#bl)"/>
<rect x="995.7" y="1152.1" width="45.8" height="27" rx="13.5" fill="#000" fill-opacity="0.16" filter="url(#bl2)"/>
<rect x="998.2" y="1158.1" width="40.8" height="13" rx="6.5" fill="#000" fill-opacity="1.0" filter="url(#bl)"/>
<rect x="1055.4" y="1154.5" width="45.6" height="19" rx="9.5" fill="#000" fill-opacity="0.05" filter="url(#bl2)"/>
<rect x="1057.9" y="1160.5" width="40.6" height="5" rx="2.5" fill="#000" fill-opacity="0.3" filter="url(#bl)"/>
<rect x="1113.7" y="1151" width="47.1" height="26" rx="13" fill="#000" fill-opacity="0.16" filter="url(#bl2)"/>
<rect x="1116.2" y="1157" width="42.1" height="12" rx="6" fill="#000" fill-opacity="1.0" filter="url(#bl)"/>
<rect x="1174.8" y="1147.6" width="56.2" height="28" rx="14" fill="#000" fill-opacity="0.16" filter="url(#bl2)"/>
<rect x="1177.3" y="1153.6" width="51.2" height="14" rx="7" fill="#000" fill-opacity="1.0" filter="url(#bl)"/>
<rect x="602" y="1235" width="39" height="19" rx="9.5" fill="#000" fill-opacity="0.03" filter="url(#bl2)"/>
<rect x="604.5" y="1241" width="34" height="5" rx="2.5" fill="#000" fill-opacity="0.18" filter="url(#bl)"/>
<rect x="662" y="1235" width="42" height="19" rx="9.5" fill="#000" fill-opacity="0.03" filter="url(#bl2)"/>
<rect x="664.5" y="1241" width="37" height="5" rx="2.5" fill="#000" fill-opacity="0.2" filter="url(#bl)"/>
<rect x="721" y="1235" width="42" height="19" rx="9.5" fill="#000" fill-opacity="0.04" filter="url(#bl2)"/>
<rect x="723.5" y="1241" width="37" height="5" rx="2.5" fill="#000" fill-opacity="0.22" filter="url(#bl)"/>
<rect x="778" y="1235" width="41" height="19" rx="9.5" fill="#000" fill-opacity="0.04" filter="url(#bl2)"/>
<rect x="780.5" y="1241" width="36" height="5" rx="2.5" fill="#000" fill-opacity="0.22" filter="url(#bl)"/>
<rect x="837" y="1234.5" width="42" height="19" rx="9.5" fill="#000" fill-opacity="0.04" filter="url(#bl2)"/>
<rect x="839.5" y="1240.5" width="37" height="5" rx="2.5" fill="#000" fill-opacity="0.22" filter="url(#bl)"/>
<rect x="944" y="1225" width="44.4" height="24" rx="12" fill="#000" fill-opacity="0.16" filter="url(#bl2)"/>
<rect x="946.5" y="1231" width="39.4" height="10" rx="5" fill="#000" fill-opacity="1.0" filter="url(#bl)"/>
<rect x="1001.5" y="1225" width="41.8" height="24" rx="12" fill="#000" fill-opacity="0.16" filter="url(#bl2)"/>
<rect x="1004" y="1231" width="36.8" height="10" rx="5" fill="#000" fill-opacity="1.0" filter="url(#bl)"/>
<rect x="1059.4" y="1228" width="43.1" height="20" rx="10" fill="#000" fill-opacity="0.1" filter="url(#bl2)"/>
<rect x="1061.9" y="1234" width="38.1" height="6" rx="3" fill="#000" fill-opacity="0.65" filter="url(#bl)"/>
<rect x="1119" y="1222.5" width="43.7" height="24" rx="12" fill="#000" fill-opacity="0.16" filter="url(#bl2)"/>
<rect x="1121.5" y="1228.5" width="38.7" height="10" rx="5" fill="#000" fill-opacity="1.0" filter="url(#bl)"/>
<rect x="1174.8" y="1217.9" width="55" height="27" rx="13.5" fill="#000" fill-opacity="0.16" filter="url(#bl2)"/>
<rect x="1177.3" y="1223.9" width="50" height="13" rx="6.5" fill="#000" fill-opacity="1.0" filter="url(#bl)"/>
<rect x="588.5" y="1296.5" width="59.3" height="28" rx="14" fill="#000" fill-opacity="0.16" filter="url(#bl2)"/>
<rect x="591" y="1302.5" width="54.3" height="14" rx="7" fill="#000" fill-opacity="1.0" filter="url(#bl)"/>
<rect x="656.6" y="1296.5" width="50.7" height="28" rx="14" fill="#000" fill-opacity="0.16" filter="url(#bl2)"/>
<rect x="659.1" y="1302.5" width="45.7" height="14" rx="7" fill="#000" fill-opacity="1.0" filter="url(#bl)"/>
<rect x="716.2" y="1296.5" width="51.8" height="28" rx="14" fill="#000" fill-opacity="0.16" filter="url(#bl2)"/>
<rect x="718.7" y="1302.5" width="46.8" height="14" rx="7" fill="#000" fill-opacity="1.0" filter="url(#bl)"/>
<rect x="774.9" y="1296.5" width="50.4" height="28" rx="14" fill="#000" fill-opacity="0.16" filter="url(#bl2)"/>
<rect x="777.4" y="1302.5" width="45.4" height="14" rx="7" fill="#000" fill-opacity="1.0" filter="url(#bl)"/>
<rect x="833.6" y="1297" width="56.2" height="27" rx="13.5" fill="#000" fill-opacity="0.16" filter="url(#bl2)"/>
<rect x="836.1" y="1303" width="51.2" height="13" rx="6.5" fill="#000" fill-opacity="1.0" filter="url(#bl)"/>
<rect x="933.4" y="1297.5" width="55" height="28" rx="14" fill="#000" fill-opacity="0.16" filter="url(#bl2)"/>
<rect x="935.9" y="1303.5" width="50" height="14" rx="7" fill="#000" fill-opacity="1.0" filter="url(#bl)"/>
<rect x="994.4" y="1298.5" width="53.6" height="27" rx="13.5" fill="#000" fill-opacity="0.16" filter="url(#bl2)"/>
<rect x="996.9" y="1304.5" width="48.6" height="13" rx="6.5" fill="#000" fill-opacity="1.0" filter="url(#bl)"/>
<rect x="1055.4" y="1298" width="51.6" height="26" rx="13" fill="#000" fill-opacity="0.16" filter="url(#bl2)"/>
<rect x="1057.9" y="1304" width="46.6" height="12" rx="6" fill="#000" fill-opacity="1.0" filter="url(#bl)"/>
<rect x="1112.4" y="1297" width="55.1" height="28" rx="14" fill="#000" fill-opacity="0.16" filter="url(#bl2)"/>
<rect x="1114.9" y="1303" width="50.1" height="14" rx="7" fill="#000" fill-opacity="1.0" filter="url(#bl)"/>
<rect x="1172" y="1296" width="64.4" height="30" rx="15" fill="#000" fill-opacity="0.16" filter="url(#bl2)"/>
<rect x="1174.5" y="1302" width="59.4" height="16" rx="8" fill="#000" fill-opacity="1.0" filter="url(#bl)"/>
<rect x="578.5" y="1134.5" width="660.7" height="52.4" fill="none" stroke="#000" stroke-width="3"/>
<rect x="579.9" y="1209.5" width="659.3" height="51.7" fill="none" stroke="#000" stroke-width="3"/>
<rect x="580.8" y="1284.7" width="658.4" height="51" fill="none" stroke="#000" stroke-width="3"/>
<text x="460.4" y="1173" font-size="30" text-anchor="start" font-weight="bold" font-family="'Liberation Serif', 'Times New Roman', serif" >P-NF-κB</text>
<text x="489.8" y="1246.4" font-size="30" text-anchor="start" font-weight="bold" font-family="'Liberation Serif', 'Times New Roman', serif" >NF-κB</text>
<text x="484.7" y="1322.7" font-size="30" text-anchor="start" font-weight="bold" font-family="'Liberation Serif', 'Times New Roman', serif" >β-actin</text>
<text x="1253.5" y="1172" font-size="30" text-anchor="start" font-weight="bold" font-family="'Liberation Serif', 'Times New Roman', serif" >65KD</text>
<text x="1254" y="1245.5" font-size="30" text-anchor="start" font-weight="bold" font-family="'Liberation Serif', 'Times New Roman', serif" >65KD</text>
<text x="1260.6" y="1322.4" font-size="30" text-anchor="start" font-weight="bold" font-family="'Liberation Serif', 'Times New Roman', serif" >42KD</text>
<text x="612.5" y="1370.6" font-size="29.7" text-anchor="end" font-weight="bold" font-family="'Liberation Serif', 'Times New Roman', serif" >Vehicle1</text>
<text x="613.5" y="1407" font-size="29.7" text-anchor="end" font-weight="bold" font-family="'Liberation Serif', 'Times New Roman', serif" >WT-TRPC6</text>
<text x="613" y="1443.3" font-size="29.7" text-anchor="end" font-weight="bold" font-family="'Liberation Serif', 'Times New Roman', serif" >Vehicle2</text>
<text x="613.5" y="1478.9" font-size="29.7" text-anchor="end" font-weight="bold" font-family="'Liberation Serif', 'Times New Roman', serif" >sh-TRPC6</text>
<text x="634.2" y="1374.4" font-size="52" text-anchor="middle" font-weight="normal" font-family="'Liberation Serif', 'Times New Roman', serif" fill="#666">–</text>
<text x="686.8" y="1378.8" font-size="45" text-anchor="middle" font-weight="normal" font-family="'Liberation Serif', 'Times New Roman', serif" fill="#333">+</text>
<text x="746.5" y="1374.4" font-size="52" text-anchor="middle" font-weight="normal" font-family="'Liberation Serif', 'Times New Roman', serif" fill="#666">–</text>
<text x="800" y="1374.4" font-size="52" text-anchor="middle" font-weight="normal" font-family="'Liberation Serif', 'Times New Roman', serif" fill="#666">–</text>
<text x="859.8" y="1374.4" font-size="52" text-anchor="middle" font-weight="normal" font-family="'Liberation Serif', 'Times New Roman', serif" fill="#666">–</text>
<text x="966.7" y="1374.4" font-size="52" text-anchor="middle" font-weight="normal" font-family="'Liberation Serif', 'Times New Roman', serif" fill="#666">–</text>
<text x="1026.2" y="1378.8" font-size="45" text-anchor="middle" font-weight="normal" font-family="'Liberation Serif', 'Times New Roman', serif" fill="#333">+</text>
<text x="1091.5" y="1374.4" font-size="52" text-anchor="middle" font-weight="normal" font-family="'Liberation Serif', 'Times New Roman', serif" fill="#666">–</text>
<text x="1151" y="1374.4" font-size="52" text-anchor="middle" font-weight="normal" font-family="'Liberation Serif', 'Times New Roman', serif" fill="#666">–</text>
<text x="1210.5" y="1374.4" font-size="52" text-anchor="middle" font-weight="normal" font-family="'Liberation Serif', 'Times New Roman', serif" fill="#666">–</text>
<text x="634.2" y="1407.3" font-size="52" text-anchor="middle" font-weight="normal" font-family="'Liberation Serif', 'Times New Roman', serif" fill="#666">–</text>
<text x="686.8" y="1407.3" font-size="52" text-anchor="middle" font-weight="normal" font-family="'Liberation Serif', 'Times New Roman', serif" fill="#666">–</text>
<text x="746.5" y="1411.5" font-size="45" text-anchor="middle" font-weight="normal" font-family="'Liberation Serif', 'Times New Roman', serif" fill="#333">+</text>
<text x="800" y="1407.3" font-size="52" text-anchor="middle" font-weight="normal" font-family="'Liberation Serif', 'Times New Roman', serif" fill="#666">–</text>
<text x="859.8" y="1407.3" font-size="52" text-anchor="middle" font-weight="normal" font-family="'Liberation Serif', 'Times New Roman', serif" fill="#666">–</text>
<text x="966.7" y="1407.3" font-size="52" text-anchor="middle" font-weight="normal" font-family="'Liberation Serif', 'Times New Roman', serif" fill="#666">–</text>
<text x="1026.2" y="1407.3" font-size="52" text-anchor="middle" font-weight="normal" font-family="'Liberation Serif', 'Times New Roman', serif" fill="#666">–</text>
<text x="1091.5" y="1411.5" font-size="45" text-anchor="middle" font-weight="normal" font-family="'Liberation Serif', 'Times New Roman', serif" fill="#333">+</text>
<text x="1151" y="1407.3" font-size="52" text-anchor="middle" font-weight="normal" font-family="'Liberation Serif', 'Times New Roman', serif" fill="#666">–</text>
<text x="1210.5" y="1407.3" font-size="52" text-anchor="middle" font-weight="normal" font-family="'Liberation Serif', 'Times New Roman', serif" fill="#666">–</text>
<text x="634.2" y="1444.4" font-size="52" text-anchor="middle" font-weight="normal" font-family="'Liberation Serif', 'Times New Roman', serif" fill="#666">–</text>
<text x="686.8" y="1444.4" font-size="52" text-anchor="middle" font-weight="normal" font-family="'Liberation Serif', 'Times New Roman', serif" fill="#666">–</text>
<text x="746.5" y="1444.4" font-size="52" text-anchor="middle" font-weight="normal" font-family="'Liberation Serif', 'Times New Roman', serif" fill="#666">–</text>
<text x="800" y="1448.4" font-size="45" text-anchor="middle" font-weight="normal" font-family="'Liberation Serif', 'Times New Roman', serif" fill="#333">+</text>
<text x="859.8" y="1444.4" font-size="52" text-anchor="middle" font-weight="normal" font-family="'Liberation Serif', 'Times New Roman', serif" fill="#666">–</text>
<text x="966.7" y="1444.4" font-size="52" text-anchor="middle" font-weight="normal" font-family="'Liberation Serif', 'Times New Roman', serif" fill="#666">–</text>
<text x="1026.2" y="1444.4" font-size="52" text-anchor="middle" font-weight="normal" font-family="'Liberation Serif', 'Times New Roman', serif" fill="#666">–</text>
<text x="1091.5" y="1444.4" font-size="52" text-anchor="middle" font-weight="normal" font-family="'Liberation Serif', 'Times New Roman', serif" fill="#666">–</text>
<text x="1151" y="1448.4" font-size="45" text-anchor="middle" font-weight="normal" font-family="'Liberation Serif', 'Times New Roman', serif" fill="#333">+</text>
<text x="1210.5" y="1444.4" font-size="52" text-anchor="middle" font-weight="normal" font-family="'Liberation Serif', 'Times New Roman', serif" fill="#666">–</text>
<text x="634.2" y="1478.2" font-size="52" text-anchor="middle" font-weight="normal" font-family="'Liberation Serif', 'Times New Roman', serif" fill="#666">–</text>
<text x="686.8" y="1478.2" font-size="52" text-anchor="middle" font-weight="normal" font-family="'Liberation Serif', 'Times New Roman', serif" fill="#666">–</text>
<text x="746.5" y="1478.2" font-size="52" text-anchor="middle" font-weight="normal" font-family="'Liberation Serif', 'Times New Roman', serif" fill="#666">–</text>
<text x="800" y="1478.2" font-size="52" text-anchor="middle" font-weight="normal" font-family="'Liberation Serif', 'Times New Roman', serif" fill="#666">–</text>
<text x="859.8" y="1482.7" font-size="45" text-anchor="middle" font-weight="normal" font-family="'Liberation Serif', 'Times New Roman', serif" fill="#333">+</text>
<text x="966.7" y="1478.2" font-size="52" text-anchor="middle" font-weight="normal" font-family="'Liberation Serif', 'Times New Roman', serif" fill="#666">–</text>
<text x="1026.2" y="1478.2" font-size="52" text-anchor="middle" font-weight="normal" font-family="'Liberation Serif', 'Times New Roman', serif" fill="#666">–</text>
<text x="1091.5" y="1478.2" font-size="52" text-anchor="middle" font-weight="normal" font-family="'Liberation Serif', 'Times New Roman', serif" fill="#666">–</text>
<text x="1151" y="1478.2" font-size="52" text-anchor="middle" font-weight="normal" font-family="'Liberation Serif', 'Times New Roman', serif" fill="#666">–</text>
<text x="1210.5" y="1482.7" font-size="45" text-anchor="middle" font-weight="normal" font-family="'Liberation Serif', 'Times New Roman', serif" fill="#333">+</text></svg></body></html>
